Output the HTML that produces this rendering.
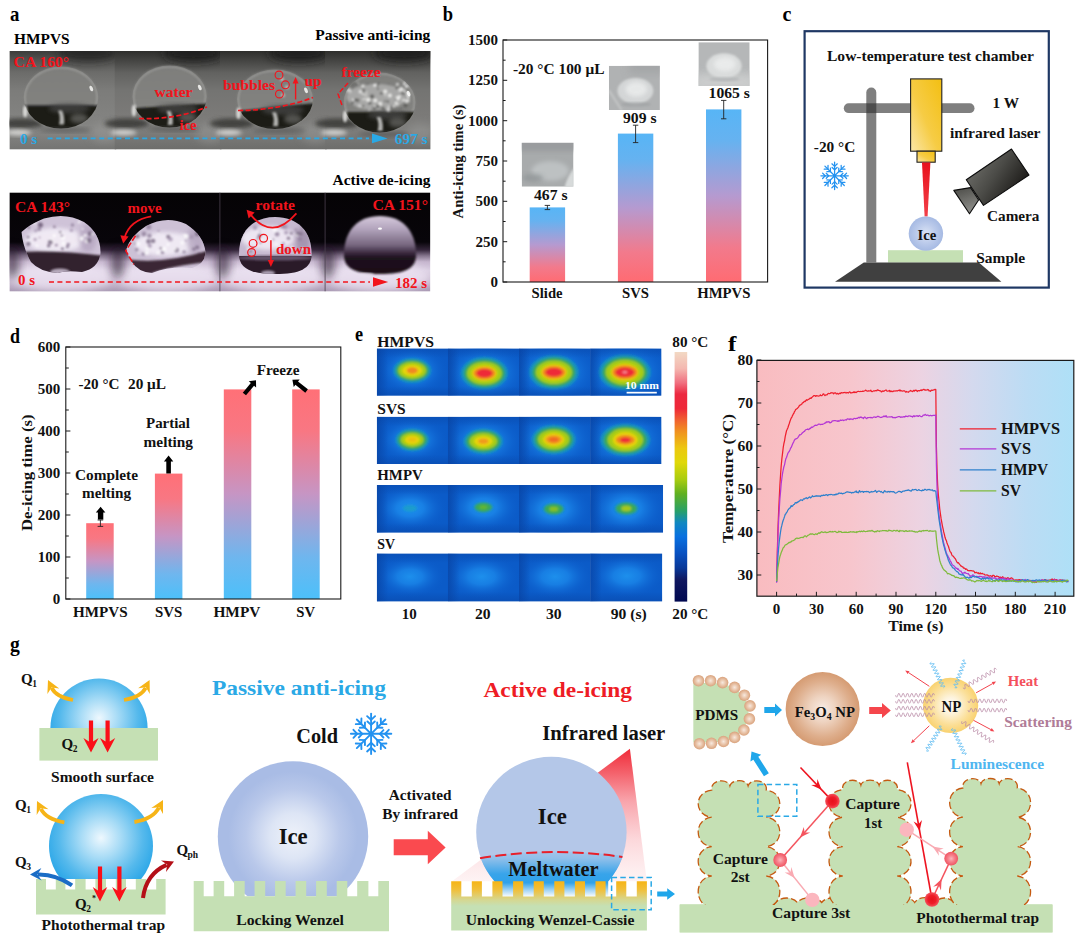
<!DOCTYPE html>
<html><head><meta charset="utf-8"><title>Figure</title>
<style>
html,body{margin:0;padding:0;background:#fff;}
body{width:1080px;height:948px;overflow:hidden;}
svg{display:block;}
text{font-family:"Liberation Serif",serif;font-weight:bold;}
</style></head><body>
<svg width="1080" height="948" viewBox="0 0 1080 948">
<rect width="1080" height="948" fill="#fff"/>
<!-- 01_a.py -->
<defs>
<filter id="b1" x="-20%" y="-20%" width="140%" height="140%"><feGaussianBlur stdDeviation="1"/></filter>
<filter id="b2" x="-30%" y="-30%" width="160%" height="160%"><feGaussianBlur stdDeviation="2.2"/></filter>
<filter id="b4" x="-50%" y="-50%" width="200%" height="200%"><feGaussianBlur stdDeviation="4.5"/></filter>
<filter id="b8" x="-50%" y="-50%" width="200%" height="200%"><feGaussianBlur stdDeviation="8"/></filter>
<linearGradient id="tbg" x1="0" y1="0" x2="0" y2="1">
 <stop offset="0" stop-color="#2e2e2c"/><stop offset="0.10" stop-color="#454543"/><stop offset="0.22" stop-color="#626260"/>
 <stop offset="0.40" stop-color="#747472"/><stop offset="0.65" stop-color="#7b7a78"/><stop offset="0.80" stop-color="#7e7e7c"/><stop offset="1" stop-color="#6d6d6b"/>
</linearGradient>
<linearGradient id="tbg1" x1="0" y1="0" x2="0" y2="1">
 <stop offset="0" stop-color="#3c3c3a"/><stop offset="0.10" stop-color="#555553"/><stop offset="0.22" stop-color="#6c6c6a"/>
 <stop offset="0.40" stop-color="#7c7c7a"/><stop offset="0.65" stop-color="#828280"/><stop offset="0.80" stop-color="#868684"/><stop offset="1" stop-color="#747472"/>
</linearGradient>
<linearGradient id="bbg" x1="0" y1="0" x2="0" y2="1">
 <stop offset="0" stop-color="#050305"/><stop offset="0.50" stop-color="#08050a"/><stop offset="0.58" stop-color="#35263b"/>
 <stop offset="0.64" stop-color="#86768e"/><stop offset="0.70" stop-color="#c6b6ce"/><stop offset="0.79" stop-color="#d9cde1"/><stop offset="0.90" stop-color="#c6b7ce"/><stop offset="1" stop-color="#a898b2"/>
</linearGradient>
<linearGradient id="dropTop" x1="0" y1="0" x2="0" y2="1">
 <stop offset="0" stop-color="#7e7e7c"/><stop offset="0.6" stop-color="#82827f"/><stop offset="1" stop-color="#8e8e8c"/>
</linearGradient>
<clipPath id="clipTop"><rect x="9.4" y="51.0" width="421.0" height="98.6"/></clipPath>
<clipPath id="clipBot"><rect x="9.4" y="192.4" width="421.0" height="99.2"/></clipPath>
</defs>
<g clip-path="url(#clipTop)">
<rect x="9.4" y="51.0" width="106.8" height="98.6" fill="url(#tbg1)"/>
<ellipse cx="88.3" cy="53.0" rx="30" ry="9" fill="#1c1c1a" opacity="0.70" filter="url(#b4)"/>
<ellipse cx="21.4" cy="123.5" rx="22" ry="5" fill="#373735" opacity="0.85" filter="url(#b2)"/>
<ellipse cx="18.4" cy="132.5" rx="13" ry="3" fill="#e2e2e0" opacity="0.85" filter="url(#b2)"/>
<ellipse cx="104.7" cy="133" rx="14" ry="10" fill="#9a9a98" opacity="0.5" filter="url(#b4)"/>
<rect x="114.7" y="51.0" width="106.8" height="98.6" fill="url(#tbg)"/>
<ellipse cx="193.6" cy="53.0" rx="30" ry="9" fill="#1c1c1a" opacity="0.90" filter="url(#b4)"/>
<ellipse cx="126.7" cy="123.5" rx="22" ry="5" fill="#373735" opacity="0.85" filter="url(#b2)"/>
<ellipse cx="123.7" cy="132.5" rx="13" ry="3" fill="#e2e2e0" opacity="0.85" filter="url(#b2)"/>
<ellipse cx="209.9" cy="133" rx="14" ry="10" fill="#9a9a98" opacity="0.5" filter="url(#b4)"/>
<rect x="219.9" y="51.0" width="106.8" height="98.6" fill="url(#tbg)"/>
<ellipse cx="298.8" cy="53.0" rx="30" ry="9" fill="#1c1c1a" opacity="0.90" filter="url(#b4)"/>
<ellipse cx="231.9" cy="123.5" rx="22" ry="5" fill="#373735" opacity="0.85" filter="url(#b2)"/>
<ellipse cx="228.9" cy="132.5" rx="13" ry="3" fill="#e2e2e0" opacity="0.85" filter="url(#b2)"/>
<ellipse cx="315.1" cy="133" rx="14" ry="10" fill="#9a9a98" opacity="0.5" filter="url(#b4)"/>
<rect x="325.1" y="51.0" width="106.8" height="98.6" fill="url(#tbg)"/>
<ellipse cx="404.1" cy="53.0" rx="30" ry="9" fill="#1c1c1a" opacity="0.90" filter="url(#b4)"/>
<ellipse cx="337.1" cy="123.5" rx="22" ry="5" fill="#373735" opacity="0.85" filter="url(#b2)"/>
<ellipse cx="334.1" cy="132.5" rx="13" ry="3" fill="#e2e2e0" opacity="0.85" filter="url(#b2)"/>
<ellipse cx="420.4" cy="133" rx="14" ry="10" fill="#9a9a98" opacity="0.5" filter="url(#b4)"/>
<clipPath id="dc0"><ellipse cx="61.0" cy="97.5" rx="37.3" ry="31.0"/></clipPath>
<ellipse cx="61.0" cy="97.5" rx="37.3" ry="31.0" fill="url(#dropTop)" filter="url(#b1)"/>
<g clip-path="url(#dc0)">
<ellipse cx="61.0" cy="97.5" rx="36.3" ry="30.0" fill="none" stroke="#b0b0ae" stroke-width="2" opacity="0.55" filter="url(#b1)"/>
<path d="M20.7 105.5 L101.3 105.5 L101.3 132.5 L20.7 132.5 Z" fill="#1b1b19" filter="url(#b1)"/>
<ellipse cx="69.0" cy="108.5" rx="20.5" ry="5" fill="#4a4a48" opacity="0.7" filter="url(#b2)"/>
<path d="M58.0 110.5 q3 6 1 14 l5 0 q1 -8 -2 -14 z" fill="#c4c4c2" opacity="0.9" filter="url(#b1)"/>
<ellipse cx="79.0" cy="118.5" rx="9" ry="5" fill="#6a6a68" opacity="0.7" filter="url(#b2)"/>
</g>
<ellipse cx="25.2" cy="111.5" rx="2.2" ry="6" fill="#e8e8e6" opacity="0.85" filter="url(#b1)"/>
<ellipse cx="91.3" cy="88.5" rx="1.6" ry="3" fill="#f2f2f0" opacity="0.9" transform="rotate(-25 91.3 88.5)"/>
<ellipse cx="65.0" cy="130.0" rx="26.1" ry="2.5" fill="#4a4a48" opacity="0.55" filter="url(#b2)"/>
<clipPath id="dc1"><ellipse cx="169.6" cy="96.5" rx="37.2" ry="31.0"/></clipPath>
<ellipse cx="169.6" cy="96.5" rx="37.2" ry="31.0" fill="url(#dropTop)" filter="url(#b1)"/>
<g clip-path="url(#dc1)">
<ellipse cx="169.6" cy="96.5" rx="36.2" ry="30.0" fill="none" stroke="#b0b0ae" stroke-width="2" opacity="0.55" filter="url(#b1)"/>
<path d="M129.4 108.5 L209.8 103.5 L209.8 131.5 L129.4 131.5 Z" fill="#1b1b19" filter="url(#b1)"/>
<ellipse cx="177.6" cy="109.0" rx="20.5" ry="5" fill="#4a4a48" opacity="0.7" filter="url(#b2)"/>
<path d="M166.6 111.0 q3 6 1 14 l5 0 q1 -8 -2 -14 z" fill="#c4c4c2" opacity="0.9" filter="url(#b1)"/>
<ellipse cx="187.6" cy="117.5" rx="9" ry="5" fill="#6a6a68" opacity="0.7" filter="url(#b2)"/>
</g>
<ellipse cx="133.9" cy="110.5" rx="2.2" ry="6" fill="#e8e8e6" opacity="0.85" filter="url(#b1)"/>
<ellipse cx="199.8" cy="87.5" rx="1.6" ry="3" fill="#f2f2f0" opacity="0.9" transform="rotate(-25 199.8 87.5)"/>
<ellipse cx="173.6" cy="129.0" rx="26.0" ry="2.5" fill="#4a4a48" opacity="0.55" filter="url(#b2)"/>
<clipPath id="dc2"><ellipse cx="275.0" cy="99.3" rx="38.0" ry="29.7"/></clipPath>
<ellipse cx="275.0" cy="99.3" rx="38.0" ry="29.7" fill="url(#dropTop)" filter="url(#b1)"/>
<g clip-path="url(#dc2)">
<ellipse cx="275.0" cy="99.3" rx="37.0" ry="28.7" fill="none" stroke="#b0b0ae" stroke-width="2" opacity="0.55" filter="url(#b1)"/>
<path d="M234.0 111.5 L316.0 103.0 L316.0 133.0 L234.0 133.0 Z" fill="#1b1b19" filter="url(#b1)"/>
<ellipse cx="283.0" cy="110.2" rx="20.9" ry="5" fill="#4a4a48" opacity="0.7" filter="url(#b2)"/>
<path d="M272.0 112.2 q3 6 1 14 l5 0 q1 -8 -2 -14 z" fill="#c4c4c2" opacity="0.9" filter="url(#b1)"/>
<ellipse cx="293.0" cy="119.0" rx="9" ry="5" fill="#6a6a68" opacity="0.7" filter="url(#b2)"/>
</g>
<ellipse cx="238.5" cy="113.3" rx="2.2" ry="6" fill="#e8e8e6" opacity="0.85" filter="url(#b1)"/>
<ellipse cx="306.0" cy="90.3" rx="1.6" ry="3" fill="#f2f2f0" opacity="0.9" transform="rotate(-25 306.0 90.3)"/>
<ellipse cx="279.0" cy="130.5" rx="26.6" ry="2.5" fill="#4a4a48" opacity="0.55" filter="url(#b2)"/>
<clipPath id="dc3"><ellipse cx="379.6" cy="102.6" rx="36.0" ry="30.0"/></clipPath>
<ellipse cx="379.6" cy="102.6" rx="36.0" ry="30.0" fill="url(#dropTop)" filter="url(#b1)"/>
<g clip-path="url(#dc3)">
<ellipse cx="379.6" cy="102.6" rx="35.0" ry="29.0" fill="none" stroke="#b0b0ae" stroke-width="2" opacity="0.55" filter="url(#b1)"/>
<path d="M340.6 112.0 L418.6 112.0 L418.6 136.6 L340.6 136.6 Z" fill="#1b1b19" filter="url(#b1)"/>
<ellipse cx="387.6" cy="115.0" rx="19.8" ry="5" fill="#4a4a48" opacity="0.7" filter="url(#b2)"/>
<path d="M376.6 117.0 q3 6 1 14 l5 0 q1 -8 -2 -14 z" fill="#c4c4c2" opacity="0.9" filter="url(#b1)"/>
<ellipse cx="397.6" cy="122.6" rx="9" ry="5" fill="#6a6a68" opacity="0.7" filter="url(#b2)"/>
</g>
<ellipse cx="345.1" cy="116.6" rx="2.2" ry="6" fill="#e8e8e6" opacity="0.85" filter="url(#b1)"/>
<ellipse cx="408.6" cy="93.6" rx="1.6" ry="3" fill="#f2f2f0" opacity="0.9" transform="rotate(-25 408.6 93.6)"/>
<ellipse cx="383.6" cy="134.1" rx="25.2" ry="2.5" fill="#4a4a48" opacity="0.55" filter="url(#b2)"/>
<g clip-path="url(#dc3)" filter="url(#b1)">
<ellipse cx="376.6" cy="97" rx="30" ry="13" fill="#b2b2b0" opacity="0.8"/>
<circle cx="362.8" cy="85.8" r="1.5" fill="#f4f4f2" opacity="0.85"/>
<circle cx="354.0" cy="83.5" r="2.2" fill="#6c6c6a" opacity="0.85"/>
<circle cx="396.6" cy="103.7" r="1.6" fill="#d6d6d4" opacity="0.85"/>
<circle cx="370.2" cy="104.1" r="1.2" fill="#e8e8e6" opacity="0.85"/>
<circle cx="405.2" cy="83.7" r="2.0" fill="#ffffff" opacity="0.85"/>
<circle cx="396.6" cy="88.2" r="1.2" fill="#5a5a58" opacity="0.85"/>
<circle cx="400.6" cy="108.9" r="0.9" fill="#5a5a58" opacity="0.85"/>
<circle cx="385.0" cy="101.1" r="1.2" fill="#6c6c6a" opacity="0.85"/>
<circle cx="363.4" cy="90.6" r="2.1" fill="#6c6c6a" opacity="0.85"/>
<circle cx="349.0" cy="90.9" r="2.1" fill="#ffffff" opacity="0.85"/>
<circle cx="399.5" cy="96.7" r="1.4" fill="#f4f4f2" opacity="0.85"/>
<circle cx="365.9" cy="95.2" r="1.3" fill="#d6d6d4" opacity="0.85"/>
<circle cx="397.4" cy="84.2" r="1.5" fill="#e8e8e6" opacity="0.85"/>
<circle cx="408.4" cy="97.0" r="1.5" fill="#ffffff" opacity="0.85"/>
<circle cx="369.2" cy="109.9" r="0.9" fill="#d6d6d4" opacity="0.85"/>
<circle cx="403.4" cy="100.1" r="1.2" fill="#f4f4f2" opacity="0.85"/>
<circle cx="369.9" cy="103.2" r="1.8" fill="#5a5a58" opacity="0.85"/>
<circle cx="360.5" cy="91.7" r="1.9" fill="#e8e8e6" opacity="0.85"/>
<circle cx="365.2" cy="98.7" r="1.0" fill="#d6d6d4" opacity="0.85"/>
<circle cx="404.7" cy="90.9" r="0.9" fill="#e8e8e6" opacity="0.85"/>
<circle cx="390.4" cy="107.2" r="1.9" fill="#5a5a58" opacity="0.85"/>
<circle cx="406.2" cy="83.5" r="1.3" fill="#5a5a58" opacity="0.85"/>
<circle cx="357.8" cy="100.6" r="1.8" fill="#6c6c6a" opacity="0.85"/>
<circle cx="353.3" cy="99.7" r="1.2" fill="#f4f4f2" opacity="0.85"/>
<circle cx="363.6" cy="99.2" r="1.3" fill="#d6d6d4" opacity="0.85"/>
<circle cx="349.2" cy="84.2" r="1.3" fill="#d6d6d4" opacity="0.85"/>
<circle cx="396.9" cy="109.9" r="0.9" fill="#6c6c6a" opacity="0.85"/>
<circle cx="407.5" cy="94.4" r="1.0" fill="#d6d6d4" opacity="0.85"/>
<circle cx="352.3" cy="102.9" r="1.8" fill="#6c6c6a" opacity="0.85"/>
<circle cx="357.6" cy="84.1" r="1.7" fill="#f4f4f2" opacity="0.85"/>
<circle cx="367.9" cy="84.0" r="1.2" fill="#6c6c6a" opacity="0.85"/>
<circle cx="408.4" cy="100.6" r="1.5" fill="#d6d6d4" opacity="0.85"/>
<circle cx="363.1" cy="94.1" r="1.1" fill="#e8e8e6" opacity="0.85"/>
<circle cx="375.2" cy="100.5" r="2.0" fill="#f4f4f2" opacity="0.85"/>
<circle cx="378.5" cy="83.9" r="1.2" fill="#5a5a58" opacity="0.85"/>
<circle cx="380.1" cy="103.9" r="2.1" fill="#f4f4f2" opacity="0.85"/>
<circle cx="357.1" cy="84.4" r="1.6" fill="#5a5a58" opacity="0.85"/>
<circle cx="408.0" cy="93.9" r="1.8" fill="#ffffff" opacity="0.85"/>
<circle cx="396.1" cy="103.1" r="1.4" fill="#f4f4f2" opacity="0.85"/>
<circle cx="374.4" cy="108.1" r="2.1" fill="#6c6c6a" opacity="0.85"/>
<circle cx="404.1" cy="92.1" r="1.5" fill="#ffffff" opacity="0.85"/>
<circle cx="402.6" cy="91.5" r="1.6" fill="#f4f4f2" opacity="0.85"/>
<circle cx="387.9" cy="101.5" r="1.3" fill="#5a5a58" opacity="0.85"/>
<circle cx="372.1" cy="96.4" r="2.2" fill="#5a5a58" opacity="0.85"/>
<circle cx="388.7" cy="84.2" r="1.0" fill="#6c6c6a" opacity="0.85"/>
<circle cx="406.7" cy="101.0" r="2.1" fill="#e8e8e6" opacity="0.85"/>
<circle cx="389.9" cy="95.5" r="1.9" fill="#f4f4f2" opacity="0.85"/>
<circle cx="404.2" cy="88.9" r="1.1" fill="#e8e8e6" opacity="0.85"/>
<circle cx="358.0" cy="99.5" r="1.0" fill="#5a5a58" opacity="0.85"/>
<circle cx="397.2" cy="104.1" r="1.6" fill="#d6d6d4" opacity="0.85"/>
<circle cx="401.3" cy="88.4" r="1.7" fill="#ffffff" opacity="0.85"/>
<circle cx="397.7" cy="98.2" r="2.2" fill="#f4f4f2" opacity="0.85"/>
<circle cx="375.0" cy="85.1" r="1.7" fill="#ffffff" opacity="0.85"/>
<circle cx="377.9" cy="106.3" r="2.0" fill="#6c6c6a" opacity="0.85"/>
<circle cx="351.1" cy="85.2" r="2.2" fill="#6c6c6a" opacity="0.85"/>
<circle cx="366.4" cy="92.4" r="0.9" fill="#e8e8e6" opacity="0.85"/>
<circle cx="381.2" cy="93.3" r="1.4" fill="#5a5a58" opacity="0.85"/>
<circle cx="394.1" cy="106.1" r="0.9" fill="#f4f4f2" opacity="0.85"/>
<circle cx="355.5" cy="99.8" r="1.6" fill="#5a5a58" opacity="0.85"/>
<circle cx="374.6" cy="106.2" r="0.9" fill="#f4f4f2" opacity="0.85"/>
<circle cx="401.5" cy="88.3" r="2.2" fill="#5a5a58" opacity="0.85"/>
<circle cx="377.3" cy="86.2" r="1.1" fill="#6c6c6a" opacity="0.85"/>
<circle cx="401.1" cy="87.8" r="1.3" fill="#d6d6d4" opacity="0.85"/>
<circle cx="400.2" cy="90.0" r="1.9" fill="#e8e8e6" opacity="0.85"/>
<circle cx="348.9" cy="91.4" r="1.0" fill="#6c6c6a" opacity="0.85"/>
<circle cx="395.8" cy="99.2" r="0.9" fill="#6c6c6a" opacity="0.85"/>
<circle cx="363.3" cy="105.9" r="1.1" fill="#5a5a58" opacity="0.85"/>
<circle cx="359.4" cy="106.3" r="1.8" fill="#e8e8e6" opacity="0.85"/>
<circle cx="385.2" cy="91.5" r="2.0" fill="#f4f4f2" opacity="0.85"/>
<circle cx="382.7" cy="108.3" r="2.0" fill="#6c6c6a" opacity="0.85"/>
<circle cx="385.4" cy="94.9" r="1.2" fill="#d6d6d4" opacity="0.85"/>
<circle cx="384.4" cy="109.6" r="1.0" fill="#5a5a58" opacity="0.85"/>
<circle cx="353.6" cy="86.9" r="1.1" fill="#6c6c6a" opacity="0.85"/>
<circle cx="402.7" cy="93.0" r="2.0" fill="#6c6c6a" opacity="0.85"/>
<circle cx="389.1" cy="106.8" r="1.4" fill="#e8e8e6" opacity="0.85"/>
<circle cx="404.8" cy="87.9" r="1.4" fill="#ffffff" opacity="0.85"/>
<circle cx="359.1" cy="106.8" r="0.8" fill="#6c6c6a" opacity="0.85"/>
<circle cx="405.6" cy="105.4" r="2.0" fill="#5a5a58" opacity="0.85"/>
<circle cx="405.8" cy="87.3" r="2.3" fill="#6c6c6a" opacity="0.85"/>
<circle cx="388.3" cy="109.8" r="1.9" fill="#e8e8e6" opacity="0.85"/>
<circle cx="406.7" cy="86.2" r="1.5" fill="#ffffff" opacity="0.85"/>
<circle cx="401.8" cy="89.0" r="1.3" fill="#ffffff" opacity="0.85"/>
<circle cx="404.3" cy="94.0" r="1.2" fill="#6c6c6a" opacity="0.85"/>
<circle cx="378.0" cy="89.0" r="1.1" fill="#5a5a58" opacity="0.85"/>
<circle cx="368.2" cy="99.9" r="2.1" fill="#f4f4f2" opacity="0.85"/>
</g>
<g filter="url(#b1)">
<circle cx="282.0" cy="79.3" r="2" fill="#c8c8c6" opacity="0.8"/>
<circle cx="287.0" cy="87.3" r="2" fill="#c8c8c6" opacity="0.8"/>
<circle cx="283.0" cy="95.3" r="2" fill="#c8c8c6" opacity="0.8"/>
</g>
</g>
<text x="13.6" y="67.2" font-size="15" fill="#f2141c" textLength="55.5" lengthAdjust="spacingAndGlyphs" >CA 160°</text>
<text x="20.0" y="144.2" font-size="15" fill="#2aa9e6" textLength="17.0" lengthAdjust="spacingAndGlyphs" >0 s</text>
<text x="394.8" y="144.2" font-size="15" fill="#2aa9e6" textLength="32.6" lengthAdjust="spacingAndGlyphs" >697 s</text>
<line x1="47.6" y1="138.4" x2="369" y2="138.4" stroke="#2aa9e6" stroke-width="1.6" stroke-dasharray="5 3.6"/>
<path d="M372 133.6 L387.6 138.4 L372 143.2 Z" fill="#2aa9e6"/>
<text x="154.5" y="96.5" font-size="15" fill="#f2141c" textLength="38.0" lengthAdjust="spacingAndGlyphs" >water</text>
<text x="179.6" y="129.5" font-size="15" fill="#f2141c" textLength="17.0" lengthAdjust="spacingAndGlyphs" >ice</text>
<path d="M139 118.5 Q175 120 207 107" fill="none" stroke="#f2141c" stroke-width="1.7" stroke-dasharray="5 2.5"/>
<text x="223.0" y="90.0" font-size="15" fill="#f2141c" textLength="52.0" lengthAdjust="spacingAndGlyphs" >bubbles</text>
<text x="304.5" y="85.5" font-size="15" fill="#f2141c" textLength="17.0" lengthAdjust="spacingAndGlyphs" >up</text>
<circle cx="279.0" cy="75.0" r="3.9" fill="none" stroke="#f2141c" stroke-width="1.1"/>
<circle cx="285.4" cy="84.8" r="3.9" fill="none" stroke="#f2141c" stroke-width="1.1"/>
<circle cx="279.4" cy="94.0" r="3.9" fill="none" stroke="#f2141c" stroke-width="1.1"/>
<path d="M295.6 99.5 L295.6 81" stroke="#f2141c" stroke-width="1.4" fill="none"/><path d="M292.6 83.5 L295.6 77 L298.6 83.5 Z" fill="#f2141c"/>
<path d="M238 110.5 Q280 110 313 97.5" fill="none" stroke="#f2141c" stroke-width="1.7" stroke-dasharray="5 2.5"/>
<text x="341.6" y="77.0" font-size="15" fill="#f2141c" textLength="39.0" lengthAdjust="spacingAndGlyphs" >freeze</text>
<path d="M348 83 L338 94 L342.6 107" fill="none" stroke="#f2141c" stroke-width="1.5" stroke-dasharray="5 2.2"/>
<g clip-path="url(#clipBot)">
<rect x="9.4" y="192.4" width="421.0" height="99.2" fill="url(#bbg)"/>
<ellipse cx="62.0" cy="277" rx="52" ry="15" fill="#efe6f4" opacity="0.75" filter="url(#b4)"/>
<ellipse cx="12.4" cy="262" rx="7" ry="16" fill="#1a1020" opacity="0.55" filter="url(#b4)"/>
<ellipse cx="167.3" cy="277" rx="52" ry="15" fill="#efe6f4" opacity="0.75" filter="url(#b4)"/>
<ellipse cx="117.7" cy="262" rx="7" ry="16" fill="#1a1020" opacity="0.55" filter="url(#b4)"/>
<ellipse cx="272.5" cy="277" rx="52" ry="15" fill="#efe6f4" opacity="0.75" filter="url(#b4)"/>
<ellipse cx="222.9" cy="262" rx="7" ry="16" fill="#1a1020" opacity="0.55" filter="url(#b4)"/>
<line x1="219.9" y1="192.4" x2="219.9" y2="291.6" stroke="#4a4050" stroke-width="1" opacity="0.8"/>
<ellipse cx="377.8" cy="277" rx="52" ry="15" fill="#efe6f4" opacity="0.75" filter="url(#b4)"/>
<ellipse cx="328.1" cy="262" rx="7" ry="16" fill="#1a1020" opacity="0.55" filter="url(#b4)"/>
<line x1="325.1" y1="192.4" x2="325.1" y2="291.6" stroke="#4a4050" stroke-width="1" opacity="0.8"/>
<clipPath id="bd1"><path d="M21.5 232 Q30 224 44 218.5 Q66 212 84 222 Q101 234 100.5 253 Q99 268 82 272 Q66 270 58 273 Q40 272 31 262 Q23 248 21.5 232Z"/></clipPath>
<g clip-path="url(#bd1)"><rect x="15" y="210" width="95" height="70" fill="#cfc3d8"/>
<ellipse cx="55" cy="240" rx="30" ry="12" fill="#f3eef7" opacity="0.9" filter="url(#b2)"/>
<ellipse cx="88" cy="238" rx="9" ry="14" fill="#b5a6c0" opacity="0.8" filter="url(#b2)"/>
<g filter="url(#b1)">
<circle cx="37.0" cy="245.7" r="1.3" fill="#ffffff" opacity="0.8"/>
<circle cx="61.2" cy="234.6" r="2.2" fill="#ffffff" opacity="0.8"/>
<circle cx="34.3" cy="222.8" r="1.6" fill="#ffffff" opacity="0.8"/>
<circle cx="79.1" cy="222.1" r="1.3" fill="#ffffff" opacity="0.8"/>
<circle cx="81.7" cy="238.6" r="2.3" fill="#ffffff" opacity="0.8"/>
<circle cx="30.0" cy="222.7" r="0.9" fill="#75657f" opacity="0.8"/>
<circle cx="87.0" cy="241.2" r="2.1" fill="#ffffff" opacity="0.8"/>
<circle cx="63.4" cy="243.4" r="1.8" fill="#ffffff" opacity="0.8"/>
<circle cx="51.2" cy="241.0" r="2.4" fill="#ffffff" opacity="0.8"/>
<circle cx="90.1" cy="233.7" r="2.4" fill="#75657f" opacity="0.8"/>
<circle cx="34.7" cy="239.6" r="1.1" fill="#a595b0" opacity="0.8"/>
<circle cx="50.3" cy="242.2" r="2.4" fill="#75657f" opacity="0.8"/>
<circle cx="56.3" cy="245.2" r="1.4" fill="#8d7d98" opacity="0.8"/>
<circle cx="67.4" cy="246.7" r="1.5" fill="#75657f" opacity="0.8"/>
<circle cx="85.2" cy="235.4" r="1.6" fill="#ffffff" opacity="0.8"/>
<circle cx="39.6" cy="237.4" r="1.0" fill="#a595b0" opacity="0.8"/>
<circle cx="72.5" cy="225.0" r="1.7" fill="#8d7d98" opacity="0.8"/>
<circle cx="54.3" cy="235.7" r="1.7" fill="#ffffff" opacity="0.8"/>
<circle cx="48.7" cy="245.8" r="1.8" fill="#75657f" opacity="0.8"/>
<circle cx="54.4" cy="226.8" r="1.3" fill="#75657f" opacity="0.8"/>
<circle cx="28.8" cy="227.6" r="1.3" fill="#75657f" opacity="0.8"/>
<circle cx="62.4" cy="248.7" r="1.5" fill="#75657f" opacity="0.8"/>
<circle cx="89.0" cy="240.5" r="2.4" fill="#75657f" opacity="0.8"/>
<circle cx="28.4" cy="243.9" r="2.2" fill="#75657f" opacity="0.8"/>
<circle cx="62.8" cy="237.7" r="2.4" fill="#ffffff" opacity="0.8"/>
<circle cx="60.2" cy="232.2" r="1.2" fill="#75657f" opacity="0.8"/>
<circle cx="61.8" cy="235.6" r="1.6" fill="#a595b0" opacity="0.8"/>
<circle cx="28.1" cy="237.1" r="1.4" fill="#75657f" opacity="0.8"/>
<circle cx="68.2" cy="244.5" r="1.8" fill="#8d7d98" opacity="0.8"/>
<circle cx="40.1" cy="224.6" r="2.2" fill="#75657f" opacity="0.8"/>
<circle cx="82.7" cy="229.1" r="1.0" fill="#ffffff" opacity="0.8"/>
<circle cx="29.1" cy="222.4" r="1.3" fill="#a595b0" opacity="0.8"/>
<circle cx="35.3" cy="239.5" r="1.4" fill="#a595b0" opacity="0.8"/>
<circle cx="39.2" cy="229.1" r="2.0" fill="#8d7d98" opacity="0.8"/>
<circle cx="71.4" cy="230.2" r="1.7" fill="#a595b0" opacity="0.8"/>
<circle cx="35.7" cy="230.7" r="1.6" fill="#a595b0" opacity="0.8"/>
<circle cx="40.6" cy="225.0" r="2.5" fill="#75657f" opacity="0.8"/>
<circle cx="92.7" cy="234.1" r="1.3" fill="#ffffff" opacity="0.8"/>
</g>
<path d="M15 252 Q60 250 105 256 L105 285 L15 285Z" fill="#33222f" filter="url(#b1)"/>
<ellipse cx="60" cy="272" rx="10" ry="3.5" fill="#d8cce0" opacity="0.8" filter="url(#b1)"/>
</g>
<clipPath id="bd2"><path d="M126 250 Q130 236 146 226 Q166 215 186 224 Q204 236 205.5 252 Q205 264 192 268 Q170 266 152 273 Q138 272 132 262 Q128 256 126 250Z"/></clipPath>
<g clip-path="url(#bd2)"><rect x="120" y="212" width="95" height="70" fill="#cdc1d6"/>
<ellipse cx="165" cy="244" rx="30" ry="12" fill="#f3eef7" opacity="0.9" filter="url(#b2)"/>
<ellipse cx="195" cy="240" rx="8" ry="14" fill="#b5a6c0" opacity="0.8" filter="url(#b2)"/>
<g filter="url(#b1)">
<circle cx="197.1" cy="254.4" r="1.0" fill="#ffffff" opacity="0.8"/>
<circle cx="158.5" cy="231.1" r="1.3" fill="#a595b0" opacity="0.8"/>
<circle cx="148.8" cy="227.1" r="2.5" fill="#8d7d98" opacity="0.8"/>
<circle cx="176.5" cy="250.1" r="2.4" fill="#75657f" opacity="0.8"/>
<circle cx="170.4" cy="239.3" r="2.3" fill="#a595b0" opacity="0.8"/>
<circle cx="191.6" cy="236.9" r="2.4" fill="#a595b0" opacity="0.8"/>
<circle cx="162.5" cy="252.5" r="1.8" fill="#8d7d98" opacity="0.8"/>
<circle cx="150.3" cy="226.7" r="1.2" fill="#a595b0" opacity="0.8"/>
<circle cx="168.2" cy="236.8" r="2.0" fill="#75657f" opacity="0.8"/>
<circle cx="146.8" cy="252.8" r="2.1" fill="#ffffff" opacity="0.8"/>
<circle cx="193.9" cy="248.9" r="1.5" fill="#75657f" opacity="0.8"/>
<circle cx="198.8" cy="254.9" r="2.4" fill="#8d7d98" opacity="0.8"/>
<circle cx="161.0" cy="248.2" r="1.3" fill="#75657f" opacity="0.8"/>
<circle cx="153.1" cy="240.9" r="2.2" fill="#75657f" opacity="0.8"/>
<circle cx="158.0" cy="252.5" r="1.5" fill="#ffffff" opacity="0.8"/>
<circle cx="182.2" cy="242.7" r="1.7" fill="#ffffff" opacity="0.8"/>
<circle cx="149.4" cy="235.7" r="2.3" fill="#8d7d98" opacity="0.8"/>
<circle cx="175.1" cy="249.2" r="1.4" fill="#ffffff" opacity="0.8"/>
<circle cx="197.2" cy="247.2" r="1.8" fill="#75657f" opacity="0.8"/>
<circle cx="168.0" cy="244.5" r="1.4" fill="#ffffff" opacity="0.8"/>
<circle cx="148.5" cy="241.4" r="2.3" fill="#75657f" opacity="0.8"/>
<circle cx="186.0" cy="236.2" r="2.4" fill="#ffffff" opacity="0.8"/>
<circle cx="147.4" cy="248.3" r="1.8" fill="#ffffff" opacity="0.8"/>
<circle cx="138.2" cy="243.8" r="2.1" fill="#ffffff" opacity="0.8"/>
<circle cx="143.9" cy="234.0" r="2.4" fill="#8d7d98" opacity="0.8"/>
<circle cx="138.9" cy="252.9" r="1.0" fill="#ffffff" opacity="0.8"/>
<circle cx="158.4" cy="233.5" r="1.0" fill="#ffffff" opacity="0.8"/>
<circle cx="197.0" cy="226.8" r="1.5" fill="#ffffff" opacity="0.8"/>
<circle cx="143.3" cy="254.1" r="1.7" fill="#8d7d98" opacity="0.8"/>
<circle cx="135.1" cy="243.7" r="1.1" fill="#8d7d98" opacity="0.8"/>
<circle cx="137.4" cy="236.3" r="1.9" fill="#75657f" opacity="0.8"/>
<circle cx="183.6" cy="234.6" r="0.9" fill="#ffffff" opacity="0.8"/>
<circle cx="164.2" cy="249.0" r="2.3" fill="#ffffff" opacity="0.8"/>
<circle cx="184.1" cy="251.9" r="1.7" fill="#8d7d98" opacity="0.8"/>
<circle cx="149.7" cy="245.8" r="2.2" fill="#a595b0" opacity="0.8"/>
<circle cx="136.6" cy="249.7" r="1.7" fill="#8d7d98" opacity="0.8"/>
<circle cx="185.8" cy="240.6" r="1.1" fill="#a595b0" opacity="0.8"/>
<circle cx="197.4" cy="233.8" r="2.5" fill="#75657f" opacity="0.8"/>
</g>
<path d="M120 258 Q160 266 210 250 L210 262 Q170 266 150 274 L120 274Z" fill="#3a2836" filter="url(#b1)"/>
</g>
<clipPath id="bd3"><path d="M239.0 254.0 C239.0 231.0 253.3 217.0 275.3 217.0 C297.3 217.0 311.6 231.0 311.6 254.0 C311.6 269.0 299.3 274.0 275.3 274.0 C251.3 274.0 239.0 269.0 239.0 254.0Z"/></clipPath>
<g clip-path="url(#bd3)"><rect x="235" y="214" width="82" height="42" fill="#c6b9d0"/><rect x="235" y="256" width="82" height="25" fill="#2a1a28"/>
<ellipse cx="268" cy="238" rx="27" ry="12" fill="#f1ebf5" opacity="0.9" filter="url(#b2)"/>
<ellipse cx="303" cy="240" rx="7" ry="14" fill="#9d8da8" opacity="0.8" filter="url(#b2)"/>
<g filter="url(#b1)">
<circle cx="258.8" cy="238.3" r="2.4" fill="#a595b0" opacity="0.8"/>
<circle cx="273.4" cy="239.4" r="0.9" fill="#75657f" opacity="0.8"/>
<circle cx="295.9" cy="229.8" r="1.2" fill="#8d7d98" opacity="0.8"/>
<circle cx="288.5" cy="238.2" r="1.7" fill="#75657f" opacity="0.8"/>
<circle cx="283.6" cy="226.5" r="2.3" fill="#8d7d98" opacity="0.8"/>
<circle cx="276.4" cy="244.2" r="1.2" fill="#ffffff" opacity="0.8"/>
<circle cx="303.4" cy="223.3" r="2.2" fill="#ffffff" opacity="0.8"/>
<circle cx="260.7" cy="239.8" r="2.0" fill="#ffffff" opacity="0.8"/>
<circle cx="301.1" cy="233.8" r="1.6" fill="#75657f" opacity="0.8"/>
<circle cx="302.0" cy="248.4" r="1.0" fill="#ffffff" opacity="0.8"/>
<circle cx="274.7" cy="229.7" r="2.1" fill="#ffffff" opacity="0.8"/>
<circle cx="297.0" cy="234.6" r="1.8" fill="#ffffff" opacity="0.8"/>
<circle cx="277.1" cy="234.2" r="2.3" fill="#8d7d98" opacity="0.8"/>
<circle cx="286.3" cy="249.9" r="2.5" fill="#a595b0" opacity="0.8"/>
<circle cx="285.6" cy="226.9" r="2.4" fill="#a595b0" opacity="0.8"/>
<circle cx="300.1" cy="239.1" r="1.9" fill="#8d7d98" opacity="0.8"/>
<circle cx="305.3" cy="230.0" r="1.0" fill="#ffffff" opacity="0.8"/>
<circle cx="296.9" cy="251.7" r="1.5" fill="#ffffff" opacity="0.8"/>
<circle cx="248.1" cy="248.9" r="1.4" fill="#ffffff" opacity="0.8"/>
<circle cx="291.7" cy="248.2" r="1.9" fill="#ffffff" opacity="0.8"/>
<circle cx="291.2" cy="233.3" r="1.4" fill="#75657f" opacity="0.8"/>
<circle cx="298.6" cy="251.4" r="1.3" fill="#75657f" opacity="0.8"/>
<circle cx="246.2" cy="222.2" r="1.9" fill="#ffffff" opacity="0.8"/>
<circle cx="245.9" cy="227.9" r="1.4" fill="#ffffff" opacity="0.8"/>
<circle cx="260.3" cy="242.7" r="1.4" fill="#a595b0" opacity="0.8"/>
<circle cx="303.4" cy="248.9" r="1.5" fill="#ffffff" opacity="0.8"/>
<circle cx="297.9" cy="233.6" r="2.0" fill="#75657f" opacity="0.8"/>
<circle cx="250.4" cy="251.2" r="1.3" fill="#75657f" opacity="0.8"/>
<circle cx="283.3" cy="243.5" r="1.6" fill="#a595b0" opacity="0.8"/>
<circle cx="260.0" cy="231.1" r="0.9" fill="#a595b0" opacity="0.8"/>
<circle cx="269.7" cy="239.4" r="1.5" fill="#ffffff" opacity="0.8"/>
<circle cx="280.5" cy="226.0" r="1.6" fill="#a595b0" opacity="0.8"/>
<circle cx="286.1" cy="232.6" r="2.1" fill="#a595b0" opacity="0.8"/>
<circle cx="245.4" cy="223.8" r="2.4" fill="#ffffff" opacity="0.8"/>
<circle cx="259.6" cy="235.7" r="1.9" fill="#75657f" opacity="0.8"/>
<circle cx="255.0" cy="227.6" r="2.3" fill="#a595b0" opacity="0.8"/>
</g>
<ellipse cx="275" cy="258" rx="38" ry="2.6" fill="#6b5a72" opacity="0.9" filter="url(#b1)"/>
<ellipse cx="268" cy="273" rx="7" ry="2.5" fill="#cfc3d8" opacity="0.8" filter="url(#b1)"/>
</g>
<defs><linearGradient id="bd4g" gradientUnits="userSpaceOnUse" x1="0" y1="216" x2="0" y2="274"><stop offset="0" stop-color="#d6cadd"/><stop offset="0.22" stop-color="#b3a5bd"/><stop offset="0.5" stop-color="#77667f"/><stop offset="0.64" stop-color="#3a2a3e"/><stop offset="0.72" stop-color="#1d121c"/><stop offset="1" stop-color="#1a1018"/></linearGradient></defs>
<path d="M344.0 255.0 C344.0 230.0 358.0 216.0 380.0 216.0 C402.0 216.0 416.0 230.0 416.0 255.0 C416.0 269.0 404.0 274.0 380.0 274.0 C356.0 274.0 344.0 269.0 344.0 255.0Z" fill="url(#bd4g)" filter="url(#b1)"/>
<ellipse cx="380" cy="228.6" rx="2" ry="1.2" fill="#fff"/>
<ellipse cx="366" cy="275" rx="8" ry="2" fill="#e8dfee" opacity="0.8" filter="url(#b1)"/>
</g>
<text x="15.0" y="212.4" font-size="15" fill="#f2141c" textLength="55.0" lengthAdjust="spacingAndGlyphs" >CA 143°</text>
<text x="127.6" y="213.0" font-size="15" fill="#f2141c" textLength="34.0" lengthAdjust="spacingAndGlyphs" >move</text>
<text x="255.6" y="210.0" font-size="15" fill="#f2141c" textLength="39.4" lengthAdjust="spacingAndGlyphs" >rotate</text>
<text x="372.4" y="210.0" font-size="15" fill="#f2141c" textLength="55.6" lengthAdjust="spacingAndGlyphs" >CA 151°</text>
<text x="276.0" y="254.0" font-size="15" fill="#f2141c" textLength="35.0" lengthAdjust="spacingAndGlyphs" >down</text>
<text x="18.0" y="285.0" font-size="15" fill="#f2141c" textLength="17.0" lengthAdjust="spacingAndGlyphs" >0 s</text>
<text x="395.0" y="287.6" font-size="15" fill="#f2141c" textLength="32.0" lengthAdjust="spacingAndGlyphs" >182 s</text>
<line x1="49" y1="282" x2="370" y2="282" stroke="#f2141c" stroke-width="1.4" stroke-dasharray="5 3.4"/>
<path d="M373 277.3 L388.2 282 L373 286.7 Z" fill="#f2141c"/>
<path d="M151.2 216.4 Q130 220 124.6 237.5" fill="none" stroke="#f2141c" stroke-width="1.8"/><path d="M120.4 235.2 L123.2 243.4 L128.6 236.6 Z" fill="#f2141c"/>
<path d="M135.5 235.7 L125.8 250.8 L133.8 264.4" fill="none" stroke="#f2141c" stroke-width="1.6" stroke-dasharray="6 2.2"/>
<path d="M296.4 213.3 Q272 241.5 250.4 214.4" fill="none" stroke="#f2141c" stroke-width="1.8"/><path d="M246.6 209.8 L254.6 212.6 L248.6 218.4 Z" fill="#f2141c"/>
<circle cx="263.6" cy="238.3" r="3.9" fill="none" stroke="#f2141c" stroke-width="1.2"/>
<circle cx="253.1" cy="243.4" r="3.9" fill="none" stroke="#f2141c" stroke-width="1.2"/>
<circle cx="251.6" cy="252.5" r="3.9" fill="none" stroke="#f2141c" stroke-width="1.2"/>
<path d="M270.9 240.3 L270.9 262" stroke="#f2141c" stroke-width="1.5"/><path d="M267.8 260 L270.9 267 L274 260 Z" fill="#f2141c"/>
<text x="10.0" y="20.7" font-size="21" fill="#000" textLength="9.4" lengthAdjust="spacingAndGlyphs" >a</text>
<text x="14.0" y="43.6" font-size="15.5" fill="#000" textLength="55.6" lengthAdjust="spacingAndGlyphs" >HMPVS</text>
<text x="315.3" y="39.6" font-size="15.5" fill="#000" textLength="115.0" lengthAdjust="spacingAndGlyphs" >Passive anti-icing</text>
<text x="332.6" y="185.0" font-size="15.5" fill="#000" textLength="97.8" lengthAdjust="spacingAndGlyphs" >Active de-icing</text>

<!-- 02_b.py -->
<defs>
<linearGradient id="barB" x1="0" y1="0" x2="0" y2="1"><stop offset="0" stop-color="#57b5f6"/><stop offset="0.18" stop-color="#66b2f0"/><stop offset="0.5" stop-color="#b59ad0"/><stop offset="0.8" stop-color="#f27a8c"/><stop offset="1" stop-color="#ff6b72"/></linearGradient>
<radialGradient id="phs" cx="0.55" cy="0.55" r="0.6"><stop offset="0" stop-color="#d0d4d6"/><stop offset="1" stop-color="#a9adaf"/></radialGradient>
</defs>
<rect x="529.7" y="207.4" width="35.4" height="74.6" fill="url(#barB)"/>
<path d="M547.4 205.4 V209.6 M544.7 205.4 H550.1 M544.7 209.6 H550.1" stroke="#222" stroke-width="0.9" fill="none"/>
<text x="534.0" y="199.6" font-size="15" fill="#111" textLength="33.6" lengthAdjust="spacingAndGlyphs" >467 s</text>
<rect x="617.9" y="133.6" width="35.4" height="148.4" fill="url(#barB)"/>
<path d="M635.6 125.2 V142.6 M632.9 125.2 H638.3 M632.9 142.6 H638.3" stroke="#222" stroke-width="0.9" fill="none"/>
<text x="623.0" y="122.6" font-size="15" fill="#111" textLength="33.6" lengthAdjust="spacingAndGlyphs" >909 s</text>
<rect x="706.0" y="109.4" width="35.4" height="172.6" fill="url(#barB)"/>
<path d="M723.7 100.4 V118.8 M721.0 100.4 H726.4 M721.0 118.8 H726.4" stroke="#222" stroke-width="0.9" fill="none"/>
<text x="708.6" y="98.0" font-size="15" fill="#111" textLength="41.2" lengthAdjust="spacingAndGlyphs" >1065 s</text>
<rect x="503.0" y="40.0" width="264.6" height="242.0" fill="none" stroke="#1a1a1a" stroke-width="1.1"/>
<line x1="503.0" y1="282.0" x2="507.2" y2="282.0" stroke="#1a1a1a" stroke-width="1"/>
<text x="498.0" y="287.1" font-size="15" fill="#111" text-anchor="end" >0</text>
<line x1="503.0" y1="261.8" x2="505.6" y2="261.8" stroke="#1a1a1a" stroke-width="1"/>
<line x1="503.0" y1="241.7" x2="507.2" y2="241.7" stroke="#1a1a1a" stroke-width="1"/>
<text x="498.0" y="246.8" font-size="15" fill="#111" text-anchor="end" >250</text>
<line x1="503.0" y1="221.5" x2="505.6" y2="221.5" stroke="#1a1a1a" stroke-width="1"/>
<line x1="503.0" y1="201.3" x2="507.2" y2="201.3" stroke="#1a1a1a" stroke-width="1"/>
<text x="498.0" y="206.4" font-size="15" fill="#111" text-anchor="end" >500</text>
<line x1="503.0" y1="181.2" x2="505.6" y2="181.2" stroke="#1a1a1a" stroke-width="1"/>
<line x1="503.0" y1="161.0" x2="507.2" y2="161.0" stroke="#1a1a1a" stroke-width="1"/>
<text x="498.0" y="166.1" font-size="15" fill="#111" text-anchor="end" >750</text>
<line x1="503.0" y1="140.8" x2="505.6" y2="140.8" stroke="#1a1a1a" stroke-width="1"/>
<line x1="503.0" y1="120.7" x2="507.2" y2="120.7" stroke="#1a1a1a" stroke-width="1"/>
<text x="498.0" y="125.8" font-size="15" fill="#111" text-anchor="end" >1000</text>
<line x1="503.0" y1="100.5" x2="505.6" y2="100.5" stroke="#1a1a1a" stroke-width="1"/>
<line x1="503.0" y1="80.3" x2="507.2" y2="80.3" stroke="#1a1a1a" stroke-width="1"/>
<text x="498.0" y="85.4" font-size="15" fill="#111" text-anchor="end" >1250</text>
<line x1="503.0" y1="60.2" x2="505.6" y2="60.2" stroke="#1a1a1a" stroke-width="1"/>
<line x1="503.0" y1="40.0" x2="507.2" y2="40.0" stroke="#1a1a1a" stroke-width="1"/>
<text x="498.0" y="45.1" font-size="15" fill="#111" text-anchor="end" >1500</text>
<text x="531.6" y="298.4" font-size="15" fill="#111" textLength="31.0" lengthAdjust="spacingAndGlyphs" >Slide</text>
<text x="622.0" y="298.4" font-size="15" fill="#111" textLength="27.0" lengthAdjust="spacingAndGlyphs" >SVS</text>
<text x="697.2" y="298.4" font-size="15" fill="#111" textLength="53.3" lengthAdjust="spacingAndGlyphs" >HMPVS</text>
<text x="0" y="0" font-size="15.5" fill="#111" text-anchor="middle" transform="translate(462.6 161.5) rotate(-90)" textLength="114" lengthAdjust="spacingAndGlyphs">Anti-icing time (s)</text>
<text x="513.0" y="74.0" font-size="15.5" fill="#111" textLength="91.4" lengthAdjust="spacingAndGlyphs" >-20 °C 100 μL</text>
<clipPath id="ph0"><rect x="521.7" y="142.8" width="51.8" height="43.9"/></clipPath><g clip-path="url(#ph0)"><rect x="521.7" y="142.8" width="51.8" height="43.9" fill="#a8abac"/><rect x="518.7" y="138.8" width="57.8" height="12.3" fill="#96999b" opacity="0.8" filter="url(#b2)"/><ellipse cx="550.2" cy="170.9" rx="18.6" ry="9.7" fill="#bdc1c2" filter="url(#b2)"/><ellipse cx="533.1" cy="177.9" rx="10.4" ry="4.0" fill="#8f9496" opacity="0.7" filter="url(#b2)"/><path d="M574.5 166.9 Q566.5 177.9 564.5 187.7 L574.5 187.7 Z" fill="#dcdfdf" opacity="0.9" filter="url(#b1)"/></g>
<clipPath id="ph1"><rect x="608.9" y="65.8" width="51.0" height="44.3"/></clipPath><g clip-path="url(#ph1)"><rect x="608.9" y="65.8" width="51.0" height="44.3" fill="#b0b2b3"/><rect x="629.3" y="59.8" width="35.7" height="13.3" fill="#9ea0a2" opacity="0.7" filter="url(#b4)"/><path d="M608.9 90.2 L621.6 110.1" stroke="#c8caca" stroke-width="1.6" filter="url(#b1)"/><ellipse cx="635.4" cy="90.8" rx="18" ry="12.9" fill="#d3d5d6" filter="url(#b1)"/><ellipse cx="636.4" cy="89.3" rx="11" ry="7.5" fill="#e9ebeb" opacity="0.9" filter="url(#b2)"/><ellipse cx="635.9" cy="104.4" rx="15" ry="2.2" fill="#9a9d9f" opacity="0.55" filter="url(#b1)"/></g>
<clipPath id="ph2"><rect x="698.4" y="42.2" width="51.3" height="43.8"/></clipPath><g clip-path="url(#ph2)"><rect x="698.4" y="42.2" width="51.3" height="43.8" fill="#b5b7b8"/><rect x="694.4" y="73.7" width="59.3" height="17.5" fill="#cdcfcf" opacity="0.9" filter="url(#b4)"/><ellipse cx="724.0" cy="65.8" rx="17.7" ry="12.6" fill="#d9dbdb" filter="url(#b1)"/><ellipse cx="724.9" cy="64.2" rx="11" ry="7" fill="#ebeded" opacity="0.9" filter="url(#b2)"/><ellipse cx="724.4" cy="79.2" rx="15" ry="2" fill="#a2a5a7" opacity="0.5" filter="url(#b1)"/></g>
<text x="442.7" y="20.7" font-size="21" fill="#000" textLength="10.3" lengthAdjust="spacingAndGlyphs" >b</text>

<!-- 03_c.py -->
<defs>
<linearGradient id="lasG" x1="1" y1="0" x2="0" y2="1"><stop offset="0" stop-color="#f3bf12"/><stop offset="0.55" stop-color="#f6cc45"/><stop offset="1" stop-color="#fbe7a8"/></linearGradient>
<linearGradient id="beamG" x1="0" y1="0" x2="0" y2="1"><stop offset="0" stop-color="#e8121c"/><stop offset="1" stop-color="#f2404a"/></linearGradient>
<radialGradient id="iceC" cx="0.5" cy="0.5" r="0.5"><stop offset="0" stop-color="#dbe4f5"/><stop offset="0.55" stop-color="#bccbeb"/><stop offset="1" stop-color="#a6bae3"/></radialGradient>
<linearGradient id="camG" x1="0" y1="0.2" x2="1" y2="0.8"><stop offset="0" stop-color="#74746f"/><stop offset="0.45" stop-color="#4b4b47"/><stop offset="1" stop-color="#0e0c0a"/></linearGradient>
<linearGradient id="camL" x1="0" y1="0" x2="0.3" y2="1"><stop offset="0" stop-color="#4a4a46"/><stop offset="1" stop-color="#8c8c88"/></linearGradient>
</defs>
<rect x="804.6" y="31.2" width="244.2" height="256.4" fill="#fff" stroke="#1f3864" stroke-width="2.2"/>
<text x="827.0" y="61.4" font-size="15" fill="#111" textLength="206.8" lengthAdjust="spacingAndGlyphs" >Low-temperature test chamber</text>
<path d="M866.3 262.5 V92.5 a5 5 0 0 1 10 0 V262.5 Z" fill="#7f7f7f"/>
<rect x="843.8" y="103.3" width="130.7" height="9.8" rx="4.9" fill="#7f7f7f"/>
<rect x="866.3" y="103.3" width="10" height="9.8" fill="#4d4d4d"/>
<rect x="910.6" y="78.9" width="31.2" height="72.3" fill="url(#lasG)" stroke="#222" stroke-width="1.1"/>
<rect x="917" y="151.2" width="18.2" height="11" fill="url(#lasG)" stroke="#222" stroke-width="1.1"/>
<path d="M922 162.6 L930.4 162.6 L927.6 216.5 L924.6 216.5 Z" fill="url(#beamG)"/>
<rect x="888" y="250.2" width="75" height="12.4" fill="#c5e0b4"/>
<path d="M863.8 262.5 L978.8 262.5 L1001.4 281.8 L835 281.8 Z" fill="#404040"/>
<circle cx="925.9" cy="233.6" r="17.2" fill="url(#iceC)"/>
<text x="917.5" y="240.0" font-size="15" fill="#111" textLength="18.8" lengthAdjust="spacingAndGlyphs" >Ice</text>
<text x="992.5" y="108.0" font-size="15" fill="#111" textLength="26.5" lengthAdjust="spacingAndGlyphs" >1 W</text>
<text x="950.0" y="138.0" font-size="15" fill="#111" textLength="90.5" lengthAdjust="spacingAndGlyphs" >infrared laser</text>
<text x="813.8" y="152.0" font-size="15" fill="#111" textLength="41.5" lengthAdjust="spacingAndGlyphs" >-20 °C</text>
<text x="987.0" y="221.4" font-size="15" fill="#111" textLength="52.5" lengthAdjust="spacingAndGlyphs" >Camera</text>
<text x="976.3" y="263.0" font-size="15" fill="#111" textLength="48.8" lengthAdjust="spacingAndGlyphs" >Sample</text>
<path d="M966.3 179.8 L1011.5 149 L1029 175 L983.5 205.4 Z" fill="url(#camG)" stroke="#0c0c0c" stroke-width="1.1" stroke-linejoin="round"/>
<path d="M953.8 190.4 L970.6 187.6 L978.6 200.0 L969.5 213.8 Z" fill="url(#camL)" stroke="#0c0c0c" stroke-width="1.1" stroke-linejoin="round"/>
<g stroke="#2392f0" stroke-width="1.25" stroke-linecap="round" fill="none"><line x1="834.60" y1="175.80" x2="848.30" y2="175.80"/><line x1="844.05" y1="175.80" x2="846.58" y2="173.09"/><line x1="844.05" y1="175.80" x2="846.58" y2="178.51"/><line x1="840.63" y1="175.80" x2="842.96" y2="173.30"/><line x1="840.63" y1="175.80" x2="842.96" y2="178.30"/><line x1="834.60" y1="175.80" x2="844.29" y2="166.11"/><line x1="841.28" y1="169.12" x2="841.16" y2="165.42"/><line x1="841.28" y1="169.12" x2="844.98" y2="169.24"/><line x1="838.86" y1="171.54" x2="838.74" y2="168.11"/><line x1="838.86" y1="171.54" x2="842.29" y2="171.66"/><line x1="834.60" y1="175.80" x2="834.60" y2="162.10"/><line x1="834.60" y1="166.35" x2="831.89" y2="163.82"/><line x1="834.60" y1="166.35" x2="837.31" y2="163.82"/><line x1="834.60" y1="169.77" x2="832.10" y2="167.44"/><line x1="834.60" y1="169.77" x2="837.10" y2="167.44"/><line x1="834.60" y1="175.80" x2="824.91" y2="166.11"/><line x1="827.92" y1="169.12" x2="824.22" y2="169.24"/><line x1="827.92" y1="169.12" x2="828.04" y2="165.42"/><line x1="830.34" y1="171.54" x2="826.91" y2="171.66"/><line x1="830.34" y1="171.54" x2="830.46" y2="168.11"/><line x1="834.60" y1="175.80" x2="820.90" y2="175.80"/><line x1="825.15" y1="175.80" x2="822.62" y2="178.51"/><line x1="825.15" y1="175.80" x2="822.62" y2="173.09"/><line x1="828.57" y1="175.80" x2="826.24" y2="178.30"/><line x1="828.57" y1="175.80" x2="826.24" y2="173.30"/><line x1="834.60" y1="175.80" x2="824.91" y2="185.49"/><line x1="827.92" y1="182.48" x2="828.04" y2="186.18"/><line x1="827.92" y1="182.48" x2="824.22" y2="182.36"/><line x1="830.34" y1="180.06" x2="830.46" y2="183.49"/><line x1="830.34" y1="180.06" x2="826.91" y2="179.94"/><line x1="834.60" y1="175.80" x2="834.60" y2="189.50"/><line x1="834.60" y1="185.25" x2="837.31" y2="187.78"/><line x1="834.60" y1="185.25" x2="831.89" y2="187.78"/><line x1="834.60" y1="181.83" x2="837.10" y2="184.16"/><line x1="834.60" y1="181.83" x2="832.10" y2="184.16"/><line x1="834.60" y1="175.80" x2="844.29" y2="185.49"/><line x1="841.28" y1="182.48" x2="844.98" y2="182.36"/><line x1="841.28" y1="182.48" x2="841.16" y2="186.18"/><line x1="838.86" y1="180.06" x2="842.29" y2="179.94"/><line x1="838.86" y1="180.06" x2="838.74" y2="183.49"/></g><circle cx="834.60" cy="175.80" r="1.56" fill="#2392f0"/>
<text x="782.5" y="20.5" font-size="21" fill="#000" textLength="8.9" lengthAdjust="spacingAndGlyphs" >c</text>

<!-- 04_d.py -->
<defs>
<linearGradient id="barD" x1="0" y1="0" x2="0" y2="1"><stop offset="0" stop-color="#ff7077"/><stop offset="0.2" stop-color="#f87783"/><stop offset="0.5" stop-color="#c695c4"/><stop offset="0.8" stop-color="#6fb6ee"/><stop offset="1" stop-color="#4cc0fa"/></linearGradient>
</defs>
<rect x="86.2" y="523.2" width="27.5" height="75.8" fill="url(#barD)"/>
<rect x="154.9" y="473.6" width="27.5" height="125.4" fill="url(#barD)"/>
<rect x="223.8" y="389.4" width="27.5" height="209.6" fill="url(#barD)"/>
<rect x="292.2" y="389.4" width="27.5" height="209.6" fill="url(#barD)"/>
<path d="M100.4 520 V526.4 M97.6 520 H103.2 M97.6 526.4 H103.2" stroke="#222" stroke-width="0.9" fill="none"/>
<rect x="65.8" y="347.0" width="275.0" height="252.0" fill="none" stroke="#1a1a1a" stroke-width="1.1"/>
<line x1="65.8" y1="599.0" x2="70.4" y2="599.0" stroke="#1a1a1a" stroke-width="1"/>
<text x="60.2" y="604.1" font-size="15" fill="#111" text-anchor="end" >0</text>
<line x1="65.8" y1="578.0" x2="68.8" y2="578.0" stroke="#1a1a1a" stroke-width="1"/>
<line x1="65.8" y1="557.0" x2="70.4" y2="557.0" stroke="#1a1a1a" stroke-width="1"/>
<text x="60.2" y="562.1" font-size="15" fill="#111" text-anchor="end" >100</text>
<line x1="65.8" y1="536.0" x2="68.8" y2="536.0" stroke="#1a1a1a" stroke-width="1"/>
<line x1="65.8" y1="515.0" x2="70.4" y2="515.0" stroke="#1a1a1a" stroke-width="1"/>
<text x="60.2" y="520.1" font-size="15" fill="#111" text-anchor="end" >200</text>
<line x1="65.8" y1="494.0" x2="68.8" y2="494.0" stroke="#1a1a1a" stroke-width="1"/>
<line x1="65.8" y1="473.0" x2="70.4" y2="473.0" stroke="#1a1a1a" stroke-width="1"/>
<text x="60.2" y="478.1" font-size="15" fill="#111" text-anchor="end" >300</text>
<line x1="65.8" y1="452.0" x2="68.8" y2="452.0" stroke="#1a1a1a" stroke-width="1"/>
<line x1="65.8" y1="431.0" x2="70.4" y2="431.0" stroke="#1a1a1a" stroke-width="1"/>
<text x="60.2" y="436.1" font-size="15" fill="#111" text-anchor="end" >400</text>
<line x1="65.8" y1="410.0" x2="68.8" y2="410.0" stroke="#1a1a1a" stroke-width="1"/>
<line x1="65.8" y1="389.0" x2="70.4" y2="389.0" stroke="#1a1a1a" stroke-width="1"/>
<text x="60.2" y="394.1" font-size="15" fill="#111" text-anchor="end" >500</text>
<line x1="65.8" y1="368.0" x2="68.8" y2="368.0" stroke="#1a1a1a" stroke-width="1"/>
<line x1="65.8" y1="347.0" x2="70.4" y2="347.0" stroke="#1a1a1a" stroke-width="1"/>
<text x="60.2" y="352.1" font-size="15" fill="#111" text-anchor="end" >600</text>
<text x="73.0" y="617.0" font-size="15" fill="#111" textLength="54.6" lengthAdjust="spacingAndGlyphs" >HMPVS</text>
<text x="155.0" y="617.0" font-size="15" fill="#111" textLength="27.4" lengthAdjust="spacingAndGlyphs" >SVS</text>
<text x="213.4" y="617.0" font-size="15" fill="#111" textLength="47.0" lengthAdjust="spacingAndGlyphs" >HMPV</text>
<text x="296.3" y="617.0" font-size="15" fill="#111" textLength="18.8" lengthAdjust="spacingAndGlyphs" >SV</text>
<text x="0" y="0" font-size="15.5" fill="#111" text-anchor="middle" transform="translate(31.6 472.8) rotate(-90)" textLength="116.5" lengthAdjust="spacingAndGlyphs">De-icing time (s)</text>
<text x="78.4" y="388.6" font-size="15.5" fill="#111" textLength="41.0" lengthAdjust="spacingAndGlyphs" >-20 °C</text>
<text x="128.0" y="388.6" font-size="15.5" fill="#111" textLength="38.0" lengthAdjust="spacingAndGlyphs" >20 μL</text>
<text x="146.0" y="428.0" font-size="15" fill="#111" textLength="44.0" lengthAdjust="spacingAndGlyphs" >Partial</text>
<text x="143.6" y="447.0" font-size="15" fill="#111" textLength="49.4" lengthAdjust="spacingAndGlyphs" >melting</text>
<text x="75.0" y="479.6" font-size="15" fill="#111" textLength="63.0" lengthAdjust="spacingAndGlyphs" >Complete</text>
<text x="82.0" y="498.0" font-size="15" fill="#111" textLength="49.0" lengthAdjust="spacingAndGlyphs" >melting</text>
<text x="256.7" y="374.8" font-size="15" fill="#111" textLength="42.8" lengthAdjust="spacingAndGlyphs" >Freeze</text>
<path d="M168.6 455.4 L173.3 461.4 L170.9 461.4 L170.9 473.4 L166.3 473.4 L166.3 461.4 L163.9 461.4 Z" fill="#000"/>
<path d="M100.6 506.8 L105.4 512.6 L103.3 512.6 L103.3 519.4 L97.9 519.4 L97.9 512.6 L95.8 512.6 Z" fill="#000"/>
<path transform="translate(244.4 394.0) rotate(-50.0)" d="M0 -2.1 L12.5 -2.1 L12.5 -4.8 L18.0 0 L12.5 4.8 L12.5 2.1 L0 2.1 Z" fill="#000"/>
<path transform="translate(306.6 391.0) rotate(-141.7)" d="M0 -2.1 L12.6 -2.1 L12.6 -4.8 L18.1 0 L12.6 4.8 L12.6 2.1 L0 2.1 Z" fill="#000"/>
<text x="10.0" y="342.7" font-size="21" fill="#000" textLength="10.0" lengthAdjust="spacingAndGlyphs" >d</text>

<!-- 05_e.py -->
<defs>
<radialGradient id="th_halo" cx="0.5" cy="0.5" r="0.5"><stop offset="0" stop-color="#1e92ee" stop-opacity="1"/><stop offset="0.35" stop-color="#1982e6" stop-opacity="0.95"/><stop offset="0.7" stop-color="#1068d4" stop-opacity="0.55"/><stop offset="1" stop-color="#0b5bc8" stop-opacity="0"/></radialGradient>
<filter id="thb" x="-30%" y="-30%" width="160%" height="160%"><feGaussianBlur stdDeviation="1.25"/></filter>
<linearGradient id="thside" x1="0" y1="0" x2="1" y2="0"><stop offset="0" stop-color="#083f9c" stop-opacity="0.6"/><stop offset="0.16" stop-color="#083f9c" stop-opacity="0"/><stop offset="1" stop-color="#083f9c" stop-opacity="0"/></linearGradient>
<linearGradient id="thtb" x1="0" y1="0" x2="0" y2="1"><stop offset="0" stop-color="#083f9c" stop-opacity="0.35"/><stop offset="0.2" stop-color="#083f9c" stop-opacity="0"/><stop offset="0.8" stop-color="#083f9c" stop-opacity="0"/><stop offset="1" stop-color="#083f9c" stop-opacity="0.4"/></linearGradient>
<linearGradient id="cbar" x1="0" y1="0" x2="0" y2="1">
<stop offset="0.000" stop-color="#f2d9c4"/>
<stop offset="0.066" stop-color="#f4b8b0"/>
<stop offset="0.123" stop-color="#f07080"/>
<stop offset="0.169" stop-color="#ec2840"/>
<stop offset="0.226" stop-color="#ee2838"/>
<stop offset="0.272" stop-color="#f06030"/>
<stop offset="0.317" stop-color="#f09020"/>
<stop offset="0.386" stop-color="#ecc810"/>
<stop offset="0.443" stop-color="#e0d808"/>
<stop offset="0.511" stop-color="#a8cc10"/>
<stop offset="0.568" stop-color="#60b020"/>
<stop offset="0.637" stop-color="#28a068"/>
<stop offset="0.683" stop-color="#1088c0"/>
<stop offset="0.740" stop-color="#0870e0"/>
<stop offset="0.808" stop-color="#0850c0"/>
<stop offset="0.865" stop-color="#083898"/>
<stop offset="0.911" stop-color="#101860"/>
<stop offset="1.000" stop-color="#000850"/>
</linearGradient></defs>
<clipPath id="tc00"><rect x="376.8" y="348.4" width="71.4" height="47.4"/></clipPath>
<g clip-path="url(#tc00)">
<rect x="376.8" y="348.4" width="71.4" height="47.4" fill="#0b5bc8"/>
<ellipse cx="412.2" cy="370.5" rx="37.3" ry="26.3" fill="url(#th_halo)" opacity="1"/><g filter="url(#thb)"><ellipse cx="412.2" cy="370.5" rx="18.9" ry="12.3" fill="#1492bc"/><ellipse cx="412.2" cy="370.5" rx="16.3" ry="10.4" fill="#3aa858"/><ellipse cx="412.2" cy="370.5" rx="13.9" ry="8.4" fill="#a6cc12"/><ellipse cx="412.2" cy="370.5" rx="10.0" ry="5.7" fill="#e6d40c"/><ellipse cx="412.2" cy="370.5" rx="5.5" ry="3.3" fill="#f08820"/></g>
<rect x="376.8" y="348.4" width="71.4" height="47.4" fill="url(#thside)"/>
<rect x="376.8" y="348.4" width="71.4" height="47.4" fill="url(#thtb)"/>
</g>
<clipPath id="tc01"><rect x="447.9" y="348.4" width="71.4" height="47.4"/></clipPath>
<g clip-path="url(#tc01)">
<rect x="447.9" y="348.4" width="71.4" height="47.4" fill="#0b5bc8"/>
<ellipse cx="484.4" cy="373.2" rx="45.5" ry="32.1" fill="url(#th_halo)" opacity="1"/><g filter="url(#thb)"><ellipse cx="484.4" cy="373.2" rx="23.5" ry="16.2" fill="#1492bc"/><ellipse cx="484.4" cy="373.2" rx="20.3" ry="13.7" fill="#3aa858"/><ellipse cx="484.4" cy="373.2" rx="17.4" ry="11.3" fill="#a6cc12"/><ellipse cx="484.4" cy="373.2" rx="12.6" ry="7.8" fill="#e6d40c"/><ellipse cx="484.4" cy="373.2" rx="11.0" ry="6.3" fill="#f08a1e"/><ellipse cx="484.4" cy="373.2" rx="8.0" ry="4.2" fill="#ee2a38"/></g>
<rect x="447.9" y="348.4" width="71.4" height="47.4" fill="url(#thside)"/>
<rect x="447.9" y="348.4" width="71.4" height="47.4" fill="url(#thtb)"/>
</g>
<clipPath id="tc02"><rect x="519.0" y="348.4" width="71.4" height="47.4"/></clipPath>
<g clip-path="url(#tc02)">
<rect x="519.0" y="348.4" width="71.4" height="47.4" fill="#0b5bc8"/>
<ellipse cx="553.9" cy="372.3" rx="46.9" ry="32.7" fill="url(#th_halo)" opacity="1"/><g filter="url(#thb)"><ellipse cx="553.9" cy="372.3" rx="24.7" ry="17.1" fill="#1492bc"/><ellipse cx="553.9" cy="372.3" rx="21.3" ry="14.5" fill="#3aa858"/><ellipse cx="553.9" cy="372.3" rx="18.1" ry="11.8" fill="#a6cc12"/><ellipse cx="553.9" cy="372.3" rx="13.0" ry="8.1" fill="#e6d40c"/><ellipse cx="553.9" cy="372.3" rx="11.5" ry="6.5" fill="#f08a1e"/><ellipse cx="553.9" cy="372.3" rx="8.5" ry="4.3" fill="#ee2a38"/></g>
<rect x="519.0" y="348.4" width="71.4" height="47.4" fill="url(#thside)"/>
<rect x="519.0" y="348.4" width="71.4" height="47.4" fill="url(#thtb)"/>
</g>
<clipPath id="tc03"><rect x="590.1" y="348.4" width="71.4" height="47.4"/></clipPath>
<g clip-path="url(#tc03)">
<rect x="590.1" y="348.4" width="71.4" height="47.4" fill="#0b5bc8"/>
<ellipse cx="624.8" cy="372.3" rx="48.3" ry="34.1" fill="url(#th_halo)" opacity="1"/><g filter="url(#thb)"><ellipse cx="624.8" cy="372.3" rx="26.0" ry="17.8" fill="#1492bc"/><ellipse cx="624.8" cy="372.3" rx="22.4" ry="15.1" fill="#3aa858"/><ellipse cx="624.8" cy="372.3" rx="19.2" ry="12.5" fill="#a6cc12"/><ellipse cx="624.8" cy="372.3" rx="13.9" ry="8.7" fill="#e6d40c"/><ellipse cx="624.8" cy="372.3" rx="12.5" ry="7.0" fill="#f08a1e"/><ellipse cx="624.8" cy="372.3" rx="9.6" ry="4.8" fill="#ee2a38"/><ellipse cx="624.8" cy="372.3" rx="2.6" ry="1.3" fill="#f28a96"/></g>
<rect x="590.1" y="348.4" width="71.4" height="47.4" fill="url(#thside)"/>
<rect x="590.1" y="348.4" width="71.4" height="47.4" fill="url(#thtb)"/>
</g>
<clipPath id="tc10"><rect x="376.8" y="416.7" width="71.4" height="47.4"/></clipPath>
<g clip-path="url(#tc10)">
<rect x="376.8" y="416.7" width="71.4" height="47.4" fill="#0b5bc8"/>
<ellipse cx="412.2" cy="439.8" rx="36.8" ry="24.1" fill="url(#th_halo)" opacity="1"/><g filter="url(#thb)"><ellipse cx="412.2" cy="439.8" rx="16.7" ry="11.1" fill="#1492bc"/><ellipse cx="412.2" cy="439.8" rx="14.4" ry="9.4" fill="#3aa858"/><ellipse cx="412.2" cy="439.8" rx="11.4" ry="7.1" fill="#a6cc12"/><ellipse cx="412.2" cy="439.8" rx="7.5" ry="4.4" fill="#e6d40c"/><ellipse cx="412.2" cy="439.8" rx="4.0" ry="2.2" fill="#ecc010"/></g>
<rect x="376.8" y="416.7" width="71.4" height="47.4" fill="url(#thside)"/>
<rect x="376.8" y="416.7" width="71.4" height="47.4" fill="url(#thtb)"/>
</g>
<clipPath id="tc11"><rect x="447.9" y="416.7" width="71.4" height="47.4"/></clipPath>
<g clip-path="url(#tc11)">
<rect x="447.9" y="416.7" width="71.4" height="47.4" fill="#0b5bc8"/>
<ellipse cx="483.3" cy="441.3" rx="42.4" ry="28.4" fill="url(#th_halo)" opacity="1"/><g filter="url(#thb)"><ellipse cx="483.3" cy="441.3" rx="19.7" ry="12.6" fill="#1492bc"/><ellipse cx="483.3" cy="441.3" rx="17.0" ry="10.7" fill="#3aa858"/><ellipse cx="483.3" cy="441.3" rx="13.8" ry="8.3" fill="#a6cc12"/><ellipse cx="483.3" cy="441.3" rx="9.3" ry="5.4" fill="#e6d40c"/><ellipse cx="483.3" cy="441.3" rx="5.2" ry="2.8" fill="#f09a1c"/></g>
<rect x="447.9" y="416.7" width="71.4" height="47.4" fill="url(#thside)"/>
<rect x="447.9" y="416.7" width="71.4" height="47.4" fill="url(#thtb)"/>
</g>
<clipPath id="tc12"><rect x="519.0" y="416.7" width="71.4" height="47.4"/></clipPath>
<g clip-path="url(#tc12)">
<rect x="519.0" y="416.7" width="71.4" height="47.4" fill="#0b5bc8"/>
<ellipse cx="553.7" cy="439.6" rx="44.2" ry="30.5" fill="url(#th_halo)" opacity="1"/><g filter="url(#thb)"><ellipse cx="553.7" cy="439.6" rx="21.9" ry="14.6" fill="#1492bc"/><ellipse cx="553.7" cy="439.6" rx="18.9" ry="12.4" fill="#3aa858"/><ellipse cx="553.7" cy="439.6" rx="15.7" ry="9.9" fill="#a6cc12"/><ellipse cx="553.7" cy="439.6" rx="10.9" ry="6.6" fill="#e6d40c"/><ellipse cx="553.7" cy="439.6" rx="8.5" ry="4.6" fill="#f0a01c"/><ellipse cx="553.7" cy="439.6" rx="5.2" ry="2.7" fill="#f06a24"/></g>
<rect x="519.0" y="416.7" width="71.4" height="47.4" fill="url(#thside)"/>
<rect x="519.0" y="416.7" width="71.4" height="47.4" fill="url(#thtb)"/>
</g>
<clipPath id="tc13"><rect x="590.1" y="416.7" width="71.4" height="47.4"/></clipPath>
<g clip-path="url(#tc13)">
<rect x="590.1" y="416.7" width="71.4" height="47.4" fill="#0b5bc8"/>
<ellipse cx="625.3" cy="439.9" rx="46.9" ry="32.7" fill="url(#th_halo)" opacity="1"/><g filter="url(#thb)"><ellipse cx="625.3" cy="439.9" rx="24.9" ry="16.2" fill="#1492bc"/><ellipse cx="625.3" cy="439.9" rx="21.5" ry="13.7" fill="#3aa858"/><ellipse cx="625.3" cy="439.9" rx="17.8" ry="11.3" fill="#a6cc12"/><ellipse cx="625.3" cy="439.9" rx="12.4" ry="7.8" fill="#e6d40c"/><ellipse cx="625.3" cy="439.9" rx="9.6" ry="4.8" fill="#f08a1e"/><ellipse cx="625.3" cy="439.9" rx="5.4" ry="2.5" fill="#ee2a38"/></g>
<rect x="590.1" y="416.7" width="71.4" height="47.4" fill="url(#thside)"/>
<rect x="590.1" y="416.7" width="71.4" height="47.4" fill="url(#thtb)"/>
</g>
<clipPath id="tc20"><rect x="376.8" y="485.0" width="71.4" height="47.7"/></clipPath>
<g clip-path="url(#tc20)">
<rect x="376.8" y="485.0" width="71.4" height="47.7" fill="#0b5bc8"/>
<ellipse cx="410.0" cy="508.3" rx="38.6" ry="24.1" fill="url(#th_halo)" opacity="1"/><g filter="url(#thb)"><ellipse cx="410.0" cy="508.3" rx="7.0" ry="3.2" fill="#1a9ccc"/></g>
<rect x="376.8" y="485.0" width="71.4" height="47.7" fill="url(#thside)"/>
<rect x="376.8" y="485.0" width="71.4" height="47.7" fill="url(#thtb)"/>
</g>
<clipPath id="tc21"><rect x="447.9" y="485.0" width="71.4" height="47.7"/></clipPath>
<g clip-path="url(#tc21)">
<rect x="447.9" y="485.0" width="71.4" height="47.7" fill="#0b5bc8"/>
<ellipse cx="483.3" cy="507.3" rx="38.6" ry="25.6" fill="url(#th_halo)" opacity="1"/><g filter="url(#thb)"><ellipse cx="483.3" cy="507.3" rx="9.9" ry="5.4" fill="#1492bc"/><ellipse cx="483.3" cy="507.3" rx="8.5" ry="4.6" fill="#3aa858"/><ellipse cx="483.3" cy="507.3" rx="3.8" ry="2.0" fill="#62b630"/></g>
<rect x="447.9" y="485.0" width="71.4" height="47.7" fill="url(#thside)"/>
<rect x="447.9" y="485.0" width="71.4" height="47.7" fill="url(#thtb)"/>
</g>
<clipPath id="tc22"><rect x="519.0" y="485.0" width="71.4" height="47.7"/></clipPath>
<g clip-path="url(#tc22)">
<rect x="519.0" y="485.0" width="71.4" height="47.7" fill="#0b5bc8"/>
<ellipse cx="553.7" cy="509.0" rx="40.8" ry="27.0" fill="url(#th_halo)" opacity="1"/><g filter="url(#thb)"><ellipse cx="553.7" cy="509.0" rx="11.0" ry="6.1" fill="#1492bc"/><ellipse cx="553.7" cy="509.0" rx="9.5" ry="5.2" fill="#3aa858"/><ellipse cx="553.7" cy="509.0" rx="4.4" ry="2.3" fill="#88c020"/></g>
<rect x="519.0" y="485.0" width="71.4" height="47.7" fill="url(#thside)"/>
<rect x="519.0" y="485.0" width="71.4" height="47.7" fill="url(#thtb)"/>
</g>
<clipPath id="tc23"><rect x="590.1" y="485.0" width="73.0" height="47.7"/></clipPath>
<g clip-path="url(#tc23)">
<rect x="590.1" y="485.0" width="73.0" height="47.7" fill="#0b5bc8"/>
<ellipse cx="626.3" cy="508.5" rx="41.4" ry="28.4" fill="url(#th_halo)" opacity="1"/><g filter="url(#thb)"><ellipse cx="626.3" cy="508.5" rx="12.1" ry="6.7" fill="#1492bc"/><ellipse cx="626.3" cy="508.5" rx="10.4" ry="5.7" fill="#3aa858"/><ellipse cx="626.3" cy="508.5" rx="5.0" ry="2.7" fill="#a4c81a"/></g>
<rect x="590.1" y="485.0" width="73.0" height="47.7" fill="url(#thside)"/>
<rect x="590.1" y="485.0" width="73.0" height="47.7" fill="url(#thtb)"/>
</g>
<clipPath id="tc30"><rect x="376.8" y="553.4" width="71.4" height="48.2"/></clipPath>
<g clip-path="url(#tc30)">
<rect x="376.8" y="553.4" width="71.4" height="48.2" fill="#0b5bc8"/>
<ellipse cx="410.0" cy="576.7" rx="35.9" ry="21.3" fill="url(#th_halo)" opacity="0.95"/><g filter="url(#thb)"></g>
<rect x="376.8" y="553.4" width="71.4" height="48.2" fill="url(#thside)"/>
<rect x="376.8" y="553.4" width="71.4" height="48.2" fill="url(#thtb)"/>
</g>
<clipPath id="tc31"><rect x="447.9" y="553.4" width="71.4" height="48.2"/></clipPath>
<g clip-path="url(#tc31)">
<rect x="447.9" y="553.4" width="71.4" height="48.2" fill="#0b5bc8"/>
<ellipse cx="481.7" cy="576.7" rx="38.6" ry="22.7" fill="url(#th_halo)" opacity="0.95"/><g filter="url(#thb)"></g>
<rect x="447.9" y="553.4" width="71.4" height="48.2" fill="url(#thside)"/>
<rect x="447.9" y="553.4" width="71.4" height="48.2" fill="url(#thtb)"/>
</g>
<clipPath id="tc32"><rect x="519.0" y="553.4" width="71.4" height="48.2"/></clipPath>
<g clip-path="url(#tc32)">
<rect x="519.0" y="553.4" width="71.4" height="48.2" fill="#0b5bc8"/>
<ellipse cx="555.0" cy="576.7" rx="38.6" ry="22.7" fill="url(#th_halo)" opacity="0.95"/><g filter="url(#thb)"></g>
<rect x="519.0" y="553.4" width="71.4" height="48.2" fill="url(#thside)"/>
<rect x="519.0" y="553.4" width="71.4" height="48.2" fill="url(#thtb)"/>
</g>
<clipPath id="tc33"><rect x="590.1" y="553.4" width="72.2" height="48.2"/></clipPath>
<g clip-path="url(#tc33)">
<rect x="590.1" y="553.4" width="72.2" height="48.2" fill="#0b5bc8"/>
<ellipse cx="626.7" cy="576.0" rx="38.6" ry="22.7" fill="url(#th_halo)" opacity="0.95"/><g filter="url(#thb)"></g>
<rect x="590.1" y="553.4" width="72.2" height="48.2" fill="url(#thside)"/>
<rect x="590.1" y="553.4" width="72.2" height="48.2" fill="url(#thtb)"/>
</g>
<text x="377.3" y="346.6" font-size="13.8" fill="#111" textLength="56.7" lengthAdjust="spacingAndGlyphs" >HMPVS</text>
<text x="377.3" y="413.8" font-size="13.8" fill="#111" textLength="28.4" lengthAdjust="spacingAndGlyphs" >SVS</text>
<text x="377.3" y="480.2" font-size="13.8" fill="#111" textLength="45.4" lengthAdjust="spacingAndGlyphs" >HMPV</text>
<text x="377.3" y="549.3" font-size="13.8" fill="#111" textLength="17.8" lengthAdjust="spacingAndGlyphs" >SV</text>
<text x="401.7" y="618.6" font-size="14" fill="#111" textLength="15.0" lengthAdjust="spacingAndGlyphs" >10</text>
<text x="475.0" y="618.6" font-size="14" fill="#111" textLength="15.6" lengthAdjust="spacingAndGlyphs" >20</text>
<text x="546.0" y="618.6" font-size="14" fill="#111" textLength="15.6" lengthAdjust="spacingAndGlyphs" >30</text>
<text x="610.7" y="618.6" font-size="14" fill="#111" textLength="36.0" lengthAdjust="spacingAndGlyphs" >90 (s)</text>
<text x="672.3" y="346.6" font-size="14" fill="#111" textLength="36.0" lengthAdjust="spacingAndGlyphs" >80 °C</text>
<text x="672.3" y="618.6" font-size="14" fill="#111" textLength="36.0" lengthAdjust="spacingAndGlyphs" >20 °C</text>
<rect x="674.6" y="352" width="12.6" height="249.6" fill="url(#cbar)"/>
<text x="625.0" y="389.0" font-size="10.5" fill="#fff" textLength="34.0" lengthAdjust="spacingAndGlyphs" >10 mm</text>
<rect x="626.6" y="391.8" width="30.2" height="1.7" fill="#fff"/>
<text x="354.9" y="340.6" font-size="21" fill="#000" textLength="8.1" lengthAdjust="spacingAndGlyphs" >e</text>

<!-- 06_f.py -->
<defs><linearGradient id="fbg" x1="0" y1="0" x2="1" y2="0">
<stop offset="0" stop-color="#f9bcc0"/><stop offset="0.30" stop-color="#f7c6cd"/><stop offset="0.52" stop-color="#ecd3e2"/><stop offset="0.68" stop-color="#d4d9ee"/><stop offset="0.85" stop-color="#bcdcf4"/><stop offset="1" stop-color="#aee0f7"/></linearGradient>
<clipPath id="fclip"><rect x="756.9" y="360.4" width="316.9" height="235.8"/></clipPath></defs>
<rect x="756.9" y="360.4" width="316.9" height="235.8" fill="url(#fbg)"/>
<g clip-path="url(#fclip)" fill="none" stroke-width="1.25" stroke-linejoin="round">
<path d="M776.6 581.9 L777.3 553.1 L777.9 530.3 L778.6 512.0 L779.3 497.4 L779.9 485.0 L780.6 474.3 L781.2 465.8 L781.9 458.5 L782.6 452.8 L783.2 447.7 L783.9 443.5 L784.6 440.6 L785.2 436.7 L785.9 433.5 L786.5 430.8 L787.2 429.3 L787.9 427.7 L788.5 425.7 L789.2 423.7 L789.9 421.5 L790.5 419.9 L791.2 418.1 L791.9 417.1 L792.5 415.6 L793.2 414.2 L793.8 413.4 L794.5 411.6 L795.2 410.6 L795.8 409.3 L796.5 409.1 L797.2 408.6 L797.8 407.9 L798.5 407.1 L799.1 406.0 L799.8 405.3 L800.5 404.9 L801.1 404.6 L801.8 404.1 L802.5 402.8 L803.1 402.7 L803.8 402.0 L804.5 401.3 L805.1 401.5 L805.8 400.8 L806.4 399.7 L807.1 400.3 L807.8 399.8 L808.4 399.3 L809.1 399.2 L809.8 398.4 L810.4 398.1 L811.1 398.4 L811.7 397.4 L812.4 396.9 L813.1 396.3 L813.7 395.7 L814.4 395.7 L815.1 395.7 L815.7 396.3 L816.4 395.7 L817.1 395.8 L817.7 395.8 L818.4 396.0 L819.0 396.0 L819.7 395.7 L820.4 394.8 L821.0 395.6 L821.7 395.7 L822.4 395.1 L823.0 394.1 L823.7 393.9 L824.3 394.8 L825.0 395.6 L825.7 394.8 L826.3 394.8 L827.0 394.9 L827.7 394.0 L828.3 393.4 L829.0 393.5 L829.7 393.5 L830.3 393.3 L831.0 392.7 L831.6 392.8 L832.3 392.9 L833.0 392.9 L833.6 393.8 L834.3 393.1 L835.0 392.8 L835.6 392.8 L836.3 393.9 L836.9 393.9 L837.6 393.3 L838.3 394.1 L838.9 393.8 L839.6 393.1 L840.3 393.7 L840.9 392.8 L841.6 392.7 L842.3 392.9 L842.9 392.8 L843.6 392.6 L844.2 392.7 L844.9 392.3 L845.6 392.8 L846.2 393.0 L846.9 392.5 L847.6 392.6 L848.2 393.0 L848.9 392.4 L849.5 391.9 L850.2 392.3 L850.9 393.0 L851.5 392.8 L852.2 392.7 L852.9 392.7 L853.5 391.9 L854.2 392.5 L854.9 391.8 L855.5 392.5 L856.2 392.6 L856.8 392.1 L857.5 391.5 L858.2 391.3 L858.8 391.4 L859.5 391.5 L860.2 391.5 L860.8 391.3 L861.5 391.5 L862.1 391.4 L862.8 391.2 L863.5 391.3 L864.1 391.0 L864.8 390.9 L865.5 390.2 L866.1 390.4 L866.8 390.9 L867.5 391.1 L868.1 391.1 L868.8 390.7 L869.4 391.0 L870.1 390.8 L870.8 390.1 L871.4 391.5 L872.1 391.7 L872.8 391.3 L873.4 390.9 L874.1 390.8 L874.7 391.0 L875.4 390.6 L876.1 390.5 L876.7 390.8 L877.4 389.8 L878.1 390.0 L878.7 390.5 L879.4 390.6 L880.1 390.8 L880.7 390.8 L881.4 391.9 L882.0 391.7 L882.7 390.9 L883.4 391.3 L884.0 391.2 L884.7 390.6 L885.4 390.3 L886.0 389.9 L886.7 391.0 L887.3 391.1 L888.0 391.2 L888.7 390.8 L889.3 390.4 L890.0 391.8 L890.7 391.0 L891.3 391.6 L892.0 391.1 L892.7 391.7 L893.3 391.4 L894.0 390.8 L894.6 391.0 L895.3 391.0 L896.0 390.7 L896.6 390.9 L897.3 391.0 L898.0 390.5 L898.6 390.3 L899.3 390.8 L899.9 389.8 L900.6 390.9 L901.3 390.7 L901.9 391.0 L902.6 391.1 L903.3 390.9 L903.9 390.9 L904.6 390.8 L905.3 391.7 L905.9 392.2 L906.6 391.5 L907.2 391.8 L907.9 392.0 L908.6 392.3 L909.2 391.3 L909.9 391.0 L910.6 390.4 L911.2 391.1 L911.9 391.1 L912.5 391.6 L913.2 391.0 L913.9 390.3 L914.5 391.0 L915.2 390.3 L915.9 390.1 L916.5 390.5 L917.2 391.5 L917.9 390.6 L918.5 390.7 L919.2 390.9 L919.8 390.6 L920.5 390.5 L921.2 389.8 L921.8 390.6 L922.5 390.0 L923.2 389.6 L923.8 389.3 L924.5 389.8 L925.1 390.3 L925.8 389.9 L926.5 390.0 L927.1 390.0 L927.8 389.5 L928.5 389.9 L929.1 390.9 L929.8 390.8 L930.5 391.3 L931.1 390.4 L931.8 390.1 L932.4 390.3 L933.1 390.2 L933.8 389.8 L934.4 389.8 L935.1 389.3 L935.8 389.6 L936.4 446.5 L937.1 472.0 L937.7 485.5 L938.4 495.2 L939.1 501.8 L939.7 508.5 L940.4 513.7 L941.1 518.7 L941.7 521.8 L942.4 525.8 L943.1 528.9 L943.7 531.9 L944.4 534.5 L945.0 537.3 L945.7 539.4 L946.4 540.7 L947.0 543.0 L947.7 544.8 L948.4 546.3 L949.0 548.3 L949.7 550.4 L950.3 551.9 L951.0 552.5 L951.7 554.5 L952.3 555.7 L953.0 556.0 L953.7 556.7 L954.3 557.8 L955.0 558.4 L955.7 559.4 L956.3 560.8 L957.0 562.1 L957.6 562.8 L958.3 562.7 L959.0 563.6 L959.6 564.4 L960.3 565.1 L961.0 566.1 L961.6 566.2 L962.3 566.9 L962.9 566.9 L963.6 568.2 L964.3 568.0 L964.9 568.4 L965.6 569.4 L966.3 569.0 L966.9 569.3 L967.6 570.5 L968.3 570.7 L968.9 570.5 L969.6 570.8 L970.2 570.6 L970.9 570.5 L971.6 570.7 L972.2 571.0 L972.9 570.8 L973.6 571.1 L974.2 571.5 L974.9 572.9 L975.5 572.5 L976.2 572.2 L976.9 572.7 L977.5 573.2 L978.2 572.6 L978.9 573.8 L979.5 573.7 L980.2 572.8 L980.9 573.8 L981.5 573.7 L982.2 573.3 L982.8 573.9 L983.5 574.0 L984.2 574.0 L984.8 574.8 L985.5 575.0 L986.2 575.0 L986.8 574.8 L987.5 575.1 L988.1 575.4 L988.8 576.0 L989.5 576.1 L990.1 575.7 L990.8 575.8 L991.5 576.3 L992.1 576.7 L992.8 575.4 L993.5 575.3 L994.1 575.6 L994.8 577.1 L995.4 576.7 L996.1 576.6 L996.8 576.0 L997.4 576.3 L998.1 576.7 L998.8 576.7 L999.4 577.8 L1000.1 577.2 L1000.7 577.2 L1001.4 577.7 L1002.1 577.2 L1002.7 576.7 L1003.4 577.8 L1004.1 578.2 L1004.7 578.1 L1005.4 578.1 L1006.0 578.4 L1006.7 578.8 L1007.4 577.8 L1008.0 577.7 L1008.7 578.7 L1009.4 579.3 L1010.0 578.4 L1010.7 578.3 L1011.4 577.8 L1012.0 578.1 L1012.7 578.9 L1013.3 579.0 L1014.0 580.1 L1014.7 580.3 L1015.3 580.0 L1016.0 579.7 L1016.7 580.1 L1017.3 580.1 L1018.0 579.8 L1018.6 579.8 L1019.3 579.6 L1020.0 579.8 L1020.6 580.1 L1021.3 579.9 L1022.0 580.0 L1022.6 580.6 L1023.3 580.8 L1024.0 580.7 L1024.6 580.7 L1025.3 580.6 L1025.9 580.6 L1026.6 580.6 L1027.3 580.7 L1027.9 581.3 L1028.6 580.9 L1029.3 580.4 L1029.9 580.4 L1030.6 580.6 L1031.2 580.5 L1031.9 581.1 L1032.6 581.8 L1033.2 581.4 L1033.9 581.6 L1034.6 581.0 L1035.2 581.4 L1035.9 582.3 L1036.6 582.2 L1037.2 581.0 L1037.9 581.1 L1038.5 581.6 L1039.2 581.6 L1039.9 581.1 L1040.5 580.7 L1041.2 580.7 L1041.9 580.1 L1042.5 580.0 L1043.2 580.3 L1043.8 580.2 L1044.5 579.7 L1045.2 579.7 L1045.8 579.6 L1046.5 580.5 L1047.2 580.6 L1047.8 580.3 L1048.5 580.5 L1049.2 580.1 L1049.8 580.0 L1050.5 579.8 L1051.1 580.2 L1051.8 579.2 L1052.5 579.2 L1053.1 579.8 L1053.8 580.1 L1054.5 579.1 L1055.1 579.8 L1055.8 579.7 L1056.4 579.6 L1057.1 580.0 L1057.8 580.7 L1058.4 580.6 L1059.1 580.4 L1059.8 580.0 L1060.4 579.9 L1061.1 580.2 L1061.8 580.0 L1062.4 580.0 L1063.1 580.2 L1063.7 580.4 L1064.4 580.6 L1065.1 580.4 L1065.7 581.0 L1066.4 581.2 L1067.1 581.1 L1067.7 581.7 L1068.4 581.6" stroke="#ef1f2d"/>
<path d="M776.6 582.8 L777.3 557.3 L777.9 536.8 L778.6 520.8 L779.3 508.5 L779.9 498.6 L780.6 491.2 L781.2 483.5 L781.9 478.0 L782.6 473.2 L783.2 470.0 L783.9 466.7 L784.6 464.6 L785.2 461.4 L785.9 458.6 L786.5 457.5 L787.2 455.4 L787.9 453.2 L788.5 452.4 L789.2 451.4 L789.9 449.9 L790.5 448.4 L791.2 447.4 L791.9 445.7 L792.5 444.3 L793.2 442.8 L793.8 441.6 L794.5 440.1 L795.2 439.0 L795.8 439.1 L796.5 438.6 L797.2 438.2 L797.8 437.6 L798.5 436.6 L799.1 435.7 L799.8 434.7 L800.5 434.8 L801.1 434.5 L801.8 433.5 L802.5 432.8 L803.1 432.3 L803.8 431.6 L804.5 431.4 L805.1 430.4 L805.8 429.8 L806.4 429.5 L807.1 429.4 L807.8 429.0 L808.4 429.7 L809.1 429.3 L809.8 428.4 L810.4 428.5 L811.1 427.6 L811.7 427.1 L812.4 427.3 L813.1 426.8 L813.7 426.4 L814.4 425.8 L815.1 425.3 L815.7 425.2 L816.4 425.4 L817.1 425.1 L817.7 424.8 L818.4 424.3 L819.0 424.0 L819.7 424.3 L820.4 424.6 L821.0 424.4 L821.7 424.3 L822.4 424.4 L823.0 424.0 L823.7 423.8 L824.3 423.4 L825.0 422.9 L825.7 423.0 L826.3 421.9 L827.0 422.3 L827.7 421.8 L828.3 422.0 L829.0 421.6 L829.7 422.8 L830.3 422.8 L831.0 422.4 L831.6 421.9 L832.3 420.8 L833.0 421.0 L833.6 420.7 L834.3 420.7 L835.0 420.6 L835.6 420.7 L836.3 421.0 L836.9 420.8 L837.6 421.4 L838.3 420.7 L838.9 421.3 L839.6 421.0 L840.3 420.0 L840.9 420.4 L841.6 420.4 L842.3 420.0 L842.9 420.1 L843.6 420.6 L844.2 420.3 L844.9 420.0 L845.6 419.7 L846.2 420.1 L846.9 419.3 L847.6 418.8 L848.2 419.1 L848.9 419.2 L849.5 419.5 L850.2 418.8 L850.9 419.3 L851.5 419.0 L852.2 419.2 L852.9 419.5 L853.5 418.9 L854.2 418.3 L854.9 418.5 L855.5 418.8 L856.2 418.4 L856.8 418.4 L857.5 418.3 L858.2 417.6 L858.8 417.4 L859.5 417.9 L860.2 417.0 L860.8 417.4 L861.5 417.2 L862.1 417.8 L862.8 417.8 L863.5 418.5 L864.1 417.4 L864.8 416.9 L865.5 417.6 L866.1 418.2 L866.8 418.6 L867.5 417.6 L868.1 417.6 L868.8 417.5 L869.4 417.5 L870.1 417.4 L870.8 417.8 L871.4 417.5 L872.1 417.9 L872.8 417.6 L873.4 417.2 L874.1 416.9 L874.7 417.0 L875.4 417.4 L876.1 417.1 L876.7 417.2 L877.4 416.4 L878.1 416.3 L878.7 416.6 L879.4 416.9 L880.1 417.2 L880.7 417.5 L881.4 417.4 L882.0 417.1 L882.7 416.8 L883.4 416.6 L884.0 415.8 L884.7 416.6 L885.4 416.7 L886.0 415.6 L886.7 416.9 L887.3 417.2 L888.0 417.0 L888.7 416.9 L889.3 416.8 L890.0 417.0 L890.7 416.8 L891.3 416.9 L892.0 416.6 L892.7 417.6 L893.3 417.7 L894.0 417.4 L894.6 417.7 L895.3 417.9 L896.0 417.3 L896.6 417.4 L897.3 417.0 L898.0 416.7 L898.6 416.6 L899.3 416.5 L899.9 416.7 L900.6 417.4 L901.3 417.2 L901.9 416.9 L902.6 417.1 L903.3 417.0 L903.9 416.6 L904.6 417.0 L905.3 416.6 L905.9 415.9 L906.6 416.4 L907.2 416.4 L907.9 416.6 L908.6 415.9 L909.2 416.0 L909.9 415.8 L910.6 416.3 L911.2 416.3 L911.9 416.3 L912.5 417.1 L913.2 416.1 L913.9 415.7 L914.5 416.6 L915.2 416.1 L915.9 416.1 L916.5 415.9 L917.2 415.7 L917.9 416.4 L918.5 416.3 L919.2 415.4 L919.8 415.8 L920.5 416.2 L921.2 416.6 L921.8 416.7 L922.5 416.1 L923.2 415.1 L923.8 415.1 L924.5 415.1 L925.1 414.3 L925.8 414.9 L926.5 415.4 L927.1 415.1 L927.8 415.0 L928.5 415.5 L929.1 415.9 L929.8 415.5 L930.5 415.3 L931.1 415.8 L931.8 415.7 L932.4 415.7 L933.1 415.3 L933.8 415.3 L934.4 415.3 L935.1 415.4 L935.8 414.9 L936.4 465.1 L937.1 488.7 L937.7 500.8 L938.4 509.4 L939.1 515.6 L939.7 520.5 L940.4 524.5 L941.1 529.1 L941.7 533.0 L942.4 536.4 L943.1 540.3 L943.7 542.9 L944.4 545.6 L945.0 547.7 L945.7 550.3 L946.4 552.9 L947.0 554.3 L947.7 555.6 L948.4 557.2 L949.0 558.1 L949.7 559.6 L950.3 561.1 L951.0 561.9 L951.7 563.6 L952.3 564.6 L953.0 565.2 L953.7 565.5 L954.3 566.4 L955.0 567.0 L955.7 568.0 L956.3 568.4 L957.0 568.2 L957.6 569.4 L958.3 568.9 L959.0 570.1 L959.6 570.7 L960.3 571.1 L961.0 571.1 L961.6 572.3 L962.3 573.4 L962.9 573.1 L963.6 572.9 L964.3 573.0 L964.9 572.2 L965.6 572.9 L966.3 573.4 L966.9 573.5 L967.6 573.8 L968.3 573.6 L968.9 574.7 L969.6 575.1 L970.2 576.7 L970.9 575.9 L971.6 576.0 L972.2 575.5 L972.9 574.8 L973.6 575.3 L974.2 575.7 L974.9 576.2 L975.5 576.6 L976.2 576.8 L976.9 576.4 L977.5 576.5 L978.2 576.5 L978.9 576.7 L979.5 576.4 L980.2 576.4 L980.9 576.7 L981.5 576.6 L982.2 576.9 L982.8 577.5 L983.5 576.8 L984.2 576.8 L984.8 577.4 L985.5 577.0 L986.2 577.0 L986.8 577.9 L987.5 577.1 L988.1 577.2 L988.8 577.1 L989.5 577.3 L990.1 577.6 L990.8 578.4 L991.5 577.8 L992.1 577.9 L992.8 578.1 L993.5 578.0 L994.1 578.1 L994.8 577.9 L995.4 578.3 L996.1 578.4 L996.8 579.4 L997.4 579.3 L998.1 578.8 L998.8 578.2 L999.4 578.6 L1000.1 578.8 L1000.7 578.2 L1001.4 578.7 L1002.1 578.6 L1002.7 578.1 L1003.4 578.6 L1004.1 578.4 L1004.7 579.1 L1005.4 579.2 L1006.0 579.4 L1006.7 579.5 L1007.4 579.1 L1008.0 578.4 L1008.7 579.3 L1009.4 579.8 L1010.0 579.7 L1010.7 580.3 L1011.4 580.1 L1012.0 579.9 L1012.7 580.2 L1013.3 580.0 L1014.0 580.9 L1014.7 580.4 L1015.3 581.1 L1016.0 581.2 L1016.7 581.2 L1017.3 581.2 L1018.0 580.7 L1018.6 580.7 L1019.3 580.9 L1020.0 580.7 L1020.6 580.1 L1021.3 580.4 L1022.0 580.5 L1022.6 580.1 L1023.3 580.4 L1024.0 581.2 L1024.6 580.0 L1025.3 579.5 L1025.9 581.0 L1026.6 581.0 L1027.3 580.9 L1027.9 580.5 L1028.6 580.4 L1029.3 580.8 L1029.9 581.4 L1030.6 581.2 L1031.2 580.7 L1031.9 581.3 L1032.6 581.6 L1033.2 581.4 L1033.9 582.0 L1034.6 581.7 L1035.2 581.6 L1035.9 581.1 L1036.6 581.3 L1037.2 581.5 L1037.9 581.4 L1038.5 581.2 L1039.2 581.3 L1039.9 581.1 L1040.5 580.6 L1041.2 580.2 L1041.9 579.6 L1042.5 580.4 L1043.2 580.7 L1043.8 581.7 L1044.5 580.5 L1045.2 580.8 L1045.8 580.8 L1046.5 580.5 L1047.2 581.1 L1047.8 580.7 L1048.5 580.7 L1049.2 581.4 L1049.8 580.9 L1050.5 580.3 L1051.1 581.2 L1051.8 580.6 L1052.5 580.5 L1053.1 580.3 L1053.8 580.2 L1054.5 579.8 L1055.1 580.2 L1055.8 580.0 L1056.4 580.5 L1057.1 580.2 L1057.8 580.8 L1058.4 580.8 L1059.1 580.0 L1059.8 580.1 L1060.4 580.5 L1061.1 581.1 L1061.8 581.4 L1062.4 581.1 L1063.1 580.6 L1063.7 580.6 L1064.4 580.5 L1065.1 580.8 L1065.7 580.3 L1066.4 580.8 L1067.1 581.2 L1067.7 580.8 L1068.4 581.0" stroke="#b437d4"/>
<path d="M776.6 581.8 L777.3 568.1 L777.9 557.1 L778.6 548.1 L779.3 541.2 L779.9 536.3 L780.6 531.5 L781.2 527.8 L781.9 525.2 L782.6 522.2 L783.2 520.2 L783.9 518.4 L784.6 516.4 L785.2 514.5 L785.9 513.8 L786.5 512.5 L787.2 511.9 L787.9 509.9 L788.5 509.5 L789.2 508.3 L789.9 508.1 L790.5 507.1 L791.2 505.6 L791.9 506.6 L792.5 506.0 L793.2 505.1 L793.8 504.5 L794.5 504.3 L795.2 502.8 L795.8 502.6 L796.5 503.0 L797.2 502.1 L797.8 502.5 L798.5 501.3 L799.1 501.3 L799.8 500.8 L800.5 499.9 L801.1 499.8 L801.8 500.2 L802.5 500.5 L803.1 499.4 L803.8 498.8 L804.5 499.0 L805.1 498.4 L805.8 498.0 L806.4 497.7 L807.1 498.7 L807.8 498.4 L808.4 497.6 L809.1 497.2 L809.8 496.8 L810.4 497.9 L811.1 497.4 L811.7 497.0 L812.4 495.7 L813.1 496.5 L813.7 496.6 L814.4 496.5 L815.1 496.0 L815.7 496.3 L816.4 495.7 L817.1 496.1 L817.7 495.9 L818.4 496.1 L819.0 495.9 L819.7 496.1 L820.4 496.6 L821.0 495.7 L821.7 495.4 L822.4 495.6 L823.0 495.4 L823.7 494.9 L824.3 495.4 L825.0 495.3 L825.7 494.9 L826.3 494.7 L827.0 494.9 L827.7 495.7 L828.3 494.8 L829.0 494.6 L829.7 494.5 L830.3 494.6 L831.0 494.4 L831.6 494.5 L832.3 494.8 L833.0 494.9 L833.6 494.8 L834.3 494.7 L835.0 494.9 L835.6 494.2 L836.3 494.6 L836.9 493.9 L837.6 494.2 L838.3 493.8 L838.9 493.0 L839.6 493.0 L840.3 493.4 L840.9 493.3 L841.6 493.1 L842.3 493.8 L842.9 493.7 L843.6 493.3 L844.2 493.3 L844.9 493.0 L845.6 492.5 L846.2 492.2 L846.9 491.9 L847.6 491.9 L848.2 492.2 L848.9 492.2 L849.5 492.3 L850.2 492.4 L850.9 492.3 L851.5 493.0 L852.2 492.7 L852.9 492.4 L853.5 492.6 L854.2 492.3 L854.9 491.9 L855.5 491.9 L856.2 490.9 L856.8 492.4 L857.5 492.2 L858.2 492.8 L858.8 491.9 L859.5 490.6 L860.2 492.1 L860.8 491.8 L861.5 491.5 L862.1 491.7 L862.8 491.4 L863.5 492.4 L864.1 491.7 L864.8 491.5 L865.5 491.5 L866.1 491.8 L866.8 491.4 L867.5 491.7 L868.1 491.5 L868.8 491.8 L869.4 492.7 L870.1 492.3 L870.8 491.9 L871.4 491.5 L872.1 491.9 L872.8 491.8 L873.4 491.5 L874.1 491.5 L874.7 491.1 L875.4 490.5 L876.1 491.4 L876.7 492.4 L877.4 491.8 L878.1 491.1 L878.7 491.0 L879.4 491.0 L880.1 491.6 L880.7 492.0 L881.4 491.5 L882.0 492.1 L882.7 492.7 L883.4 492.8 L884.0 491.4 L884.7 490.7 L885.4 491.5 L886.0 491.9 L886.7 491.8 L887.3 492.1 L888.0 491.4 L888.7 491.6 L889.3 492.1 L890.0 491.4 L890.7 491.8 L891.3 491.6 L892.0 491.6 L892.7 491.8 L893.3 491.6 L894.0 491.9 L894.6 492.5 L895.3 493.1 L896.0 493.0 L896.6 492.7 L897.3 492.2 L898.0 491.8 L898.6 491.4 L899.3 491.3 L899.9 491.6 L900.6 491.7 L901.3 492.4 L901.9 491.9 L902.6 491.3 L903.3 491.0 L903.9 491.0 L904.6 491.0 L905.3 490.5 L905.9 490.6 L906.6 490.4 L907.2 490.2 L907.9 490.3 L908.6 489.9 L909.2 490.4 L909.9 490.6 L910.6 490.9 L911.2 491.1 L911.9 490.2 L912.5 489.5 L913.2 489.9 L913.9 489.8 L914.5 489.5 L915.2 489.5 L915.9 489.3 L916.5 490.2 L917.2 490.5 L917.9 490.2 L918.5 489.6 L919.2 489.8 L919.8 490.4 L920.5 490.5 L921.2 490.7 L921.8 490.9 L922.5 490.0 L923.2 490.4 L923.8 490.4 L924.5 489.4 L925.1 489.3 L925.8 489.6 L926.5 490.2 L927.1 490.1 L927.8 489.5 L928.5 489.6 L929.1 489.4 L929.8 489.8 L930.5 489.9 L931.1 490.2 L931.8 490.2 L932.4 489.8 L933.1 490.8 L933.8 490.8 L934.4 490.6 L935.1 490.9 L935.8 491.0 L936.4 497.1 L937.1 502.6 L937.7 508.5 L938.4 514.1 L939.1 520.0 L939.7 523.6 L940.4 528.0 L941.1 532.1 L941.7 536.2 L942.4 539.4 L943.1 542.9 L943.7 545.4 L944.4 547.6 L945.0 550.0 L945.7 552.1 L946.4 554.5 L947.0 555.7 L947.7 557.8 L948.4 560.2 L949.0 561.4 L949.7 562.9 L950.3 564.3 L951.0 565.3 L951.7 566.0 L952.3 567.3 L953.0 568.0 L953.7 568.1 L954.3 568.7 L955.0 569.7 L955.7 570.4 L956.3 571.1 L957.0 571.7 L957.6 571.9 L958.3 572.5 L959.0 574.1 L959.6 574.1 L960.3 574.6 L961.0 574.4 L961.6 574.9 L962.3 575.0 L962.9 574.2 L963.6 575.3 L964.3 576.0 L964.9 576.7 L965.6 577.5 L966.3 577.9 L966.9 577.2 L967.6 577.3 L968.3 577.9 L968.9 578.2 L969.6 577.5 L970.2 577.7 L970.9 577.7 L971.6 577.4 L972.2 576.8 L972.9 576.3 L973.6 576.4 L974.2 576.8 L974.9 577.1 L975.5 576.6 L976.2 576.5 L976.9 577.3 L977.5 577.4 L978.2 577.6 L978.9 577.8 L979.5 578.2 L980.2 578.8 L980.9 578.9 L981.5 579.4 L982.2 578.5 L982.8 578.3 L983.5 579.0 L984.2 578.3 L984.8 578.1 L985.5 579.2 L986.2 578.3 L986.8 578.2 L987.5 577.7 L988.1 578.8 L988.8 578.7 L989.5 578.8 L990.1 578.9 L990.8 579.0 L991.5 578.8 L992.1 579.7 L992.8 580.2 L993.5 580.6 L994.1 580.5 L994.8 580.5 L995.4 580.1 L996.1 579.9 L996.8 580.0 L997.4 580.3 L998.1 580.4 L998.8 579.9 L999.4 579.7 L1000.1 579.9 L1000.7 580.2 L1001.4 579.6 L1002.1 580.2 L1002.7 580.1 L1003.4 579.8 L1004.1 580.2 L1004.7 580.0 L1005.4 580.8 L1006.0 580.3 L1006.7 580.4 L1007.4 581.2 L1008.0 580.8 L1008.7 581.2 L1009.4 580.5 L1010.0 580.9 L1010.7 581.0 L1011.4 580.8 L1012.0 581.0 L1012.7 580.8 L1013.3 581.1 L1014.0 580.7 L1014.7 580.8 L1015.3 580.8 L1016.0 582.0 L1016.7 581.1 L1017.3 581.0 L1018.0 581.7 L1018.6 581.3 L1019.3 580.9 L1020.0 580.4 L1020.6 581.0 L1021.3 580.3 L1022.0 580.5 L1022.6 579.6 L1023.3 580.1 L1024.0 580.0 L1024.6 580.5 L1025.3 581.0 L1025.9 580.4 L1026.6 580.1 L1027.3 579.6 L1027.9 579.6 L1028.6 580.2 L1029.3 581.1 L1029.9 581.1 L1030.6 581.2 L1031.2 581.2 L1031.9 580.7 L1032.6 580.4 L1033.2 580.5 L1033.9 580.4 L1034.6 580.5 L1035.2 580.4 L1035.9 580.0 L1036.6 579.8 L1037.2 580.3 L1037.9 581.0 L1038.5 580.1 L1039.2 580.2 L1039.9 579.8 L1040.5 580.8 L1041.2 580.8 L1041.9 580.6 L1042.5 581.2 L1043.2 581.1 L1043.8 580.6 L1044.5 580.1 L1045.2 579.6 L1045.8 580.4 L1046.5 581.1 L1047.2 580.7 L1047.8 580.3 L1048.5 580.4 L1049.2 581.1 L1049.8 580.6 L1050.5 580.4 L1051.1 580.3 L1051.8 580.8 L1052.5 580.7 L1053.1 580.5 L1053.8 580.9 L1054.5 581.8 L1055.1 581.4 L1055.8 581.1 L1056.4 581.1 L1057.1 580.8 L1057.8 581.2 L1058.4 581.3 L1059.1 581.5 L1059.8 581.2 L1060.4 580.6 L1061.1 581.0 L1061.8 580.3 L1062.4 580.2 L1063.1 580.4 L1063.7 580.6 L1064.4 580.2 L1065.1 580.9 L1065.7 581.2 L1066.4 581.9 L1067.1 581.6 L1067.7 581.1 L1068.4 581.1" stroke="#2f80cc"/>
<path d="M776.6 581.1 L777.3 573.7 L777.9 567.7 L778.6 563.6 L779.3 559.3 L779.9 556.5 L780.6 554.5 L781.2 552.6 L781.9 551.1 L782.6 549.2 L783.2 547.7 L783.9 547.3 L784.6 546.0 L785.2 545.0 L785.9 544.7 L786.5 544.6 L787.2 544.1 L787.9 543.6 L788.5 542.8 L789.2 542.4 L789.9 542.6 L790.5 541.8 L791.2 541.8 L791.9 540.8 L792.5 540.8 L793.2 540.6 L793.8 540.3 L794.5 540.0 L795.2 539.1 L795.8 538.6 L796.5 538.2 L797.2 538.1 L797.8 538.5 L798.5 538.3 L799.1 538.1 L799.8 538.1 L800.5 537.5 L801.1 537.5 L801.8 537.4 L802.5 537.4 L803.1 537.6 L803.8 536.8 L804.5 536.0 L805.1 535.8 L805.8 536.1 L806.4 536.8 L807.1 536.1 L807.8 535.3 L808.4 535.1 L809.1 534.7 L809.8 534.2 L810.4 533.9 L811.1 534.3 L811.7 533.9 L812.4 533.8 L813.1 534.4 L813.7 534.4 L814.4 534.6 L815.1 534.3 L815.7 533.8 L816.4 534.1 L817.1 534.5 L817.7 533.6 L818.4 533.3 L819.0 532.7 L819.7 533.3 L820.4 532.8 L821.0 532.1 L821.7 531.7 L822.4 532.2 L823.0 532.3 L823.7 532.5 L824.3 532.2 L825.0 531.9 L825.7 532.1 L826.3 532.7 L827.0 532.3 L827.7 532.5 L828.3 532.2 L829.0 532.1 L829.7 531.6 L830.3 531.4 L831.0 531.9 L831.6 531.9 L832.3 531.4 L833.0 531.9 L833.6 531.8 L834.3 531.5 L835.0 531.3 L835.6 531.5 L836.3 532.2 L836.9 532.6 L837.6 532.3 L838.3 532.1 L838.9 531.2 L839.6 531.9 L840.3 531.6 L840.9 531.5 L841.6 532.3 L842.3 532.5 L842.9 532.3 L843.6 532.4 L844.2 532.4 L844.9 532.1 L845.6 532.4 L846.2 532.2 L846.9 532.4 L847.6 532.5 L848.2 532.2 L848.9 532.4 L849.5 532.2 L850.2 531.6 L850.9 531.8 L851.5 532.0 L852.2 531.8 L852.9 532.1 L853.5 531.7 L854.2 532.3 L854.9 532.0 L855.5 532.2 L856.2 532.5 L856.8 531.7 L857.5 532.1 L858.2 531.5 L858.8 531.5 L859.5 531.2 L860.2 531.8 L860.8 531.4 L861.5 531.1 L862.1 531.4 L862.8 531.6 L863.5 530.8 L864.1 531.1 L864.8 531.5 L865.5 531.7 L866.1 531.5 L866.8 531.4 L867.5 531.4 L868.1 530.8 L868.8 531.1 L869.4 531.1 L870.1 530.6 L870.8 531.2 L871.4 530.8 L872.1 530.3 L872.8 531.1 L873.4 531.4 L874.1 531.6 L874.7 532.0 L875.4 531.4 L876.1 531.8 L876.7 531.2 L877.4 530.6 L878.1 531.2 L878.7 531.1 L879.4 531.6 L880.1 530.9 L880.7 531.0 L881.4 530.9 L882.0 530.8 L882.7 530.5 L883.4 530.6 L884.0 530.5 L884.7 530.7 L885.4 530.6 L886.0 530.9 L886.7 530.7 L887.3 531.2 L888.0 531.1 L888.7 530.1 L889.3 530.2 L890.0 530.7 L890.7 530.5 L891.3 530.8 L892.0 531.2 L892.7 531.2 L893.3 530.6 L894.0 530.4 L894.6 530.5 L895.3 530.8 L896.0 531.1 L896.6 530.4 L897.3 530.4 L898.0 530.8 L898.6 531.5 L899.3 531.6 L899.9 530.4 L900.6 530.9 L901.3 530.9 L901.9 530.8 L902.6 530.8 L903.3 530.9 L903.9 531.4 L904.6 531.5 L905.3 530.7 L905.9 531.1 L906.6 530.7 L907.2 531.4 L907.9 531.3 L908.6 531.1 L909.2 530.7 L909.9 531.3 L910.6 531.0 L911.2 530.9 L911.9 531.2 L912.5 531.0 L913.2 531.4 L913.9 531.6 L914.5 531.4 L915.2 532.2 L915.9 531.8 L916.5 531.9 L917.2 532.1 L917.9 531.9 L918.5 531.3 L919.2 531.4 L919.8 530.8 L920.5 531.3 L921.2 531.7 L921.8 530.9 L922.5 530.8 L923.2 530.5 L923.8 531.0 L924.5 530.7 L925.1 530.7 L925.8 530.5 L926.5 530.6 L927.1 530.3 L927.8 530.7 L928.5 531.0 L929.1 531.4 L929.8 530.7 L930.5 530.9 L931.1 531.1 L931.8 531.2 L932.4 531.1 L933.1 531.3 L933.8 531.0 L934.4 531.0 L935.1 530.9 L935.8 531.0 L936.4 538.2 L937.1 544.5 L937.7 549.4 L938.4 553.4 L939.1 556.6 L939.7 560.2 L940.4 562.5 L941.1 564.5 L941.7 565.6 L942.4 567.4 L943.1 568.6 L943.7 569.5 L944.4 570.3 L945.0 570.6 L945.7 571.4 L946.4 571.7 L947.0 572.8 L947.7 573.8 L948.4 573.5 L949.0 573.7 L949.7 574.0 L950.3 574.4 L951.0 574.6 L951.7 575.4 L952.3 575.3 L953.0 575.8 L953.7 575.7 L954.3 576.1 L955.0 577.1 L955.7 577.5 L956.3 577.1 L957.0 577.3 L957.6 577.6 L958.3 577.6 L959.0 578.0 L959.6 578.3 L960.3 578.3 L961.0 578.4 L961.6 578.0 L962.3 578.3 L962.9 578.0 L963.6 577.9 L964.3 577.9 L964.9 578.1 L965.6 578.7 L966.3 579.0 L966.9 579.4 L967.6 579.9 L968.3 580.0 L968.9 580.3 L969.6 579.7 L970.2 579.8 L970.9 580.2 L971.6 581.0 L972.2 580.9 L972.9 580.9 L973.6 581.2 L974.2 581.5 L974.9 582.0 L975.5 581.4 L976.2 581.2 L976.9 580.3 L977.5 580.6 L978.2 580.9 L978.9 580.5 L979.5 580.7 L980.2 580.9 L980.9 581.1 L981.5 581.4 L982.2 580.8 L982.8 580.7 L983.5 580.3 L984.2 580.8 L984.8 581.0 L985.5 581.4 L986.2 581.0 L986.8 581.6 L987.5 581.3 L988.1 580.9 L988.8 580.6 L989.5 581.1 L990.1 580.8 L990.8 581.2 L991.5 581.5 L992.1 581.8 L992.8 581.1 L993.5 580.6 L994.1 581.0 L994.8 581.3 L995.4 581.3 L996.1 580.3 L996.8 580.3 L997.4 580.7 L998.1 581.4 L998.8 581.5 L999.4 580.8 L1000.1 580.2 L1000.7 580.6 L1001.4 580.9 L1002.1 581.1 L1002.7 581.6 L1003.4 581.0 L1004.1 581.3 L1004.7 580.7 L1005.4 581.4 L1006.0 581.6 L1006.7 581.2 L1007.4 581.3 L1008.0 580.8 L1008.7 580.8 L1009.4 581.2 L1010.0 580.9 L1010.7 580.6 L1011.4 581.4 L1012.0 580.5 L1012.7 580.5 L1013.3 580.4 L1014.0 581.3 L1014.7 581.4 L1015.3 581.4 L1016.0 580.9 L1016.7 581.4 L1017.3 581.6 L1018.0 582.1 L1018.6 581.8 L1019.3 581.4 L1020.0 581.9 L1020.6 581.9 L1021.3 581.5 L1022.0 580.9 L1022.6 580.8 L1023.3 581.2 L1024.0 581.7 L1024.6 581.9 L1025.3 582.0 L1025.9 581.8 L1026.6 581.7 L1027.3 581.1 L1027.9 581.2 L1028.6 581.8 L1029.3 581.2 L1029.9 581.1 L1030.6 581.3 L1031.2 581.8 L1031.9 582.4 L1032.6 582.6 L1033.2 582.0 L1033.9 582.2 L1034.6 582.6 L1035.2 582.2 L1035.9 582.0 L1036.6 581.8 L1037.2 581.6 L1037.9 581.3 L1038.5 581.8 L1039.2 581.5 L1039.9 582.0 L1040.5 581.8 L1041.2 581.8 L1041.9 581.8 L1042.5 581.5 L1043.2 581.7 L1043.8 581.4 L1044.5 581.3 L1045.2 581.4 L1045.8 581.8 L1046.5 582.0 L1047.2 582.1 L1047.8 582.0 L1048.5 581.9 L1049.2 580.8 L1049.8 580.9 L1050.5 580.9 L1051.1 581.5 L1051.8 581.8 L1052.5 581.8 L1053.1 581.6 L1053.8 581.9 L1054.5 581.1 L1055.1 581.4 L1055.8 581.0 L1056.4 581.9 L1057.1 581.7 L1057.8 581.4 L1058.4 581.3 L1059.1 581.0 L1059.8 581.0 L1060.4 581.0 L1061.1 581.7 L1061.8 581.7 L1062.4 582.2 L1063.1 581.5 L1063.7 581.2 L1064.4 581.2 L1065.1 581.4 L1065.7 581.4 L1066.4 580.6 L1067.1 580.1 L1067.7 580.5 L1068.4 580.2" stroke="#7fba3c"/>
</g>
<rect x="756.9" y="360.4" width="316.9" height="235.8" fill="none" stroke="#1a1a1a" stroke-width="1.2"/>
<line x1="756.9" y1="575.0" x2="761.3" y2="575.0" stroke="#1a1a1a" stroke-width="1"/>
<text x="753.0" y="580.1" font-size="15" fill="#111" text-anchor="end" textLength="15.6" lengthAdjust="spacingAndGlyphs" >30</text>
<line x1="756.9" y1="532.0" x2="761.3" y2="532.0" stroke="#1a1a1a" stroke-width="1"/>
<text x="753.0" y="537.1" font-size="15" fill="#111" text-anchor="end" textLength="15.6" lengthAdjust="spacingAndGlyphs" >40</text>
<line x1="756.9" y1="553.5" x2="759.5" y2="553.5" stroke="#1a1a1a" stroke-width="1"/>
<line x1="756.9" y1="489.0" x2="761.3" y2="489.0" stroke="#1a1a1a" stroke-width="1"/>
<text x="753.0" y="494.1" font-size="15" fill="#111" text-anchor="end" textLength="15.6" lengthAdjust="spacingAndGlyphs" >50</text>
<line x1="756.9" y1="510.5" x2="759.5" y2="510.5" stroke="#1a1a1a" stroke-width="1"/>
<line x1="756.9" y1="446.0" x2="761.3" y2="446.0" stroke="#1a1a1a" stroke-width="1"/>
<text x="753.0" y="451.1" font-size="15" fill="#111" text-anchor="end" textLength="15.6" lengthAdjust="spacingAndGlyphs" >60</text>
<line x1="756.9" y1="467.5" x2="759.5" y2="467.5" stroke="#1a1a1a" stroke-width="1"/>
<line x1="756.9" y1="403.0" x2="761.3" y2="403.0" stroke="#1a1a1a" stroke-width="1"/>
<text x="753.0" y="408.1" font-size="15" fill="#111" text-anchor="end" textLength="15.6" lengthAdjust="spacingAndGlyphs" >70</text>
<line x1="756.9" y1="424.5" x2="759.5" y2="424.5" stroke="#1a1a1a" stroke-width="1"/>
<line x1="756.9" y1="360.0" x2="761.3" y2="360.0" stroke="#1a1a1a" stroke-width="1"/>
<text x="753.0" y="365.1" font-size="15" fill="#111" text-anchor="end" textLength="15.6" lengthAdjust="spacingAndGlyphs" >80</text>
<line x1="756.9" y1="381.5" x2="759.5" y2="381.5" stroke="#1a1a1a" stroke-width="1"/>
<line x1="776.6" y1="596.2" x2="776.6" y2="591.8" stroke="#1a1a1a" stroke-width="1"/>
<text x="776.6" y="613.8" font-size="15" fill="#111" text-anchor="middle" >0</text>
<line x1="796.5" y1="596.2" x2="796.5" y2="593.6" stroke="#1a1a1a" stroke-width="1"/>
<line x1="816.4" y1="596.2" x2="816.4" y2="591.8" stroke="#1a1a1a" stroke-width="1"/>
<text x="816.4" y="613.8" font-size="15" fill="#111" text-anchor="middle" >30</text>
<line x1="836.3" y1="596.2" x2="836.3" y2="593.6" stroke="#1a1a1a" stroke-width="1"/>
<line x1="856.2" y1="596.2" x2="856.2" y2="591.8" stroke="#1a1a1a" stroke-width="1"/>
<text x="856.2" y="613.8" font-size="15" fill="#111" text-anchor="middle" >60</text>
<line x1="876.1" y1="596.2" x2="876.1" y2="593.6" stroke="#1a1a1a" stroke-width="1"/>
<line x1="896.0" y1="596.2" x2="896.0" y2="591.8" stroke="#1a1a1a" stroke-width="1"/>
<text x="896.0" y="613.8" font-size="15" fill="#111" text-anchor="middle" >90</text>
<line x1="915.9" y1="596.2" x2="915.9" y2="593.6" stroke="#1a1a1a" stroke-width="1"/>
<line x1="935.8" y1="596.2" x2="935.8" y2="591.8" stroke="#1a1a1a" stroke-width="1"/>
<text x="935.8" y="613.8" font-size="15" fill="#111" text-anchor="middle" >120</text>
<line x1="955.7" y1="596.2" x2="955.7" y2="593.6" stroke="#1a1a1a" stroke-width="1"/>
<line x1="975.5" y1="596.2" x2="975.5" y2="591.8" stroke="#1a1a1a" stroke-width="1"/>
<text x="975.5" y="613.8" font-size="15" fill="#111" text-anchor="middle" >150</text>
<line x1="995.4" y1="596.2" x2="995.4" y2="593.6" stroke="#1a1a1a" stroke-width="1"/>
<line x1="1015.3" y1="596.2" x2="1015.3" y2="591.8" stroke="#1a1a1a" stroke-width="1"/>
<text x="1015.3" y="613.8" font-size="15" fill="#111" text-anchor="middle" >180</text>
<line x1="1035.2" y1="596.2" x2="1035.2" y2="593.6" stroke="#1a1a1a" stroke-width="1"/>
<line x1="1055.1" y1="596.2" x2="1055.1" y2="591.8" stroke="#1a1a1a" stroke-width="1"/>
<text x="1055.1" y="613.8" font-size="15" fill="#111" text-anchor="middle" >210</text>
<text x="888.2" y="631.4" font-size="15.5" fill="#111" textLength="55.3" lengthAdjust="spacingAndGlyphs" >Time (s)</text>
<text x="0" y="0" font-size="15.5" fill="#111" text-anchor="middle" transform="translate(732.8 478.6) rotate(-90)" textLength="129" lengthAdjust="spacingAndGlyphs">Temperature (°C)</text>
<line x1="959.8" y1="428.8" x2="996.3" y2="428.8" stroke="#ef1f2d" stroke-width="1.3"/>
<text x="1001.0" y="433.7" font-size="16.5" fill="#111" textLength="59.0" lengthAdjust="spacingAndGlyphs" >HMPVS</text>
<line x1="959.8" y1="448.8" x2="996.3" y2="448.8" stroke="#b437d4" stroke-width="1.3"/>
<text x="1001.0" y="454.3" font-size="16.5" fill="#111" textLength="30.0" lengthAdjust="spacingAndGlyphs" >SVS</text>
<line x1="959.8" y1="469.9" x2="996.3" y2="469.9" stroke="#2f80cc" stroke-width="1.3"/>
<text x="1001.0" y="475.4" font-size="16.5" fill="#111" textLength="47.0" lengthAdjust="spacingAndGlyphs" >HMPV</text>
<line x1="959.8" y1="490.8" x2="996.3" y2="490.8" stroke="#7fba3c" stroke-width="1.3"/>
<text x="1001.0" y="495.6" font-size="16.5" fill="#111" textLength="20.0" lengthAdjust="spacingAndGlyphs" >SV</text>
<text x="728.0" y="351.0" font-size="21" fill="#000" textLength="8.4" lengthAdjust="spacingAndGlyphs" >f</text>

<!-- 07_g1.py -->
<defs>
<radialGradient id="wat1" gradientUnits="userSpaceOnUse" cx="99" cy="718" r="52"><stop offset="0" stop-color="#eef8fe"/><stop offset="0.35" stop-color="#a9dcf6"/><stop offset="0.75" stop-color="#55b9ec"/><stop offset="1" stop-color="#2ea8e8"/></radialGradient>
<radialGradient id="wat2" gradientUnits="userSpaceOnUse" cx="101" cy="838" r="56"><stop offset="0" stop-color="#eef8fe"/><stop offset="0.35" stop-color="#a9dcf6"/><stop offset="0.75" stop-color="#55b9ec"/><stop offset="1" stop-color="#2ea8e8"/></radialGradient>
<radialGradient id="iceB" gradientUnits="userSpaceOnUse" cx="293" cy="836" r="76"><stop offset="0" stop-color="#eef2fa"/><stop offset="0.30" stop-color="#dde5f5"/><stop offset="0.62" stop-color="#b9c8ea"/><stop offset="0.85" stop-color="#a9bce5"/><stop offset="1" stop-color="#a9bce5"/></radialGradient>
<linearGradient id="melt" gradientUnits="userSpaceOnUse" x1="0" y1="846" x2="0" y2="897"><stop offset="0" stop-color="#b6c8e8"/><stop offset="0.25" stop-color="#8fbfea"/><stop offset="0.55" stop-color="#38a4ea"/><stop offset="0.72" stop-color="#2fa2ea"/><stop offset="0.86" stop-color="#9fd2f4"/><stop offset="1" stop-color="#ffffff"/></linearGradient>
<linearGradient id="subY" gradientUnits="userSpaceOnUse" x1="0" y1="881" x2="0" y2="906"><stop offset="0" stop-color="#f6b414"/><stop offset="0.35" stop-color="#f1bf3a"/><stop offset="0.75" stop-color="#d6d790"/><stop offset="1" stop-color="#c5e0b4"/></linearGradient>
<linearGradient id="lasT" gradientUnits="userSpaceOnUse" x1="0" y1="748" x2="0" y2="882"><stop offset="0" stop-color="#f02a38"/><stop offset="0.18" stop-color="#f4606a"/><stop offset="0.40" stop-color="#f8a0a8" stop-opacity="0.95"/><stop offset="0.68" stop-color="#fbd0d4" stop-opacity="0.85"/><stop offset="1" stop-color="#fdeced" stop-opacity="0.6"/></linearGradient>
</defs>
<rect x="39.4" y="728" width="118.6" height="32.6" fill="#c5e0b4"/>
<path d="M50.4 728 A48.6 49.6 0 0 1 147.6 728 Z" fill="url(#wat1)"/>
<path d="M88.9 720.6 H93.1 V741.6 L98.6 738.1 L91.0 752.6 L83.4 738.1 L88.9 741.6 H88.9 Z" fill="#fb0f18"/>
<path d="M105.5 720.6 H109.7 V741.6 L115.2 738.1 L107.6 752.6 L100.0 738.1 L105.5 741.6 H105.5 Z" fill="#fb0f18"/>
<path d="M73.0 700.0 Q56.0 697.0 51.7 687.9" fill="none" stroke="#f6b417" stroke-width="3.8"/><path d="M48.0 680.0 L59.3 688.5 L51.5 687.4 L47.4 694.1 Z" fill="#f6b417"/>
<path d="M124.0 700.0 Q141.0 697.0 145.7 687.8" fill="none" stroke="#f6b417" stroke-width="3.8"/><path d="M149.6 680.0 L149.8 694.1 L145.9 687.3 L138.1 688.2 Z" fill="#f6b417"/>
<text x="21.0" y="684.0" font-size="15" fill="#111" >Q</text><text x="32.2" y="687.0" font-size="9.5" fill="#111" >1</text>
<text x="61.6" y="749.0" font-size="15" fill="#111" >Q</text><text x="72.8" y="752.0" font-size="9.5" fill="#111" >2</text>
<text x="51.0" y="782.0" font-size="15" fill="#111" textLength="103.0" lengthAdjust="spacingAndGlyphs" >Smooth surface</text>
<clipPath id="w2c"><rect x="40" y="790" width="125" height="89"/></clipPath>
<circle cx="101" cy="846" r="52" fill="url(#wat2)" clip-path="url(#w2c)"/>
<path d="M36 914.4 V879 H46.0 V889.6 H55.8 V879 H65.4 V889.6 H75.2 V879 H85.6 V889.6 H95.4 V879 H106.0 V889.6 H115.8 V879 H126.0 V889.6 H135.8 V879 H146.4 V889.6 H156.2 V879 H165.6 V914.4 Z" fill="#c5e0b4"/>
<path d="M97.9 866.6 H102.1 V890.6 L107.3 887.1 L100.0 901.6 L92.7 887.1 L97.9 890.6 H97.9 Z" fill="#fb0f18"/>
<path d="M117.3 866.6 H121.5 V890.6 L126.7 887.1 L119.4 901.6 L112.1 887.1 L117.3 890.6 H117.3 Z" fill="#fb0f18"/>
<path d="M64.4 822.4 Q46.0 819.0 40.9 808.8" fill="none" stroke="#f6b417" stroke-width="3.8"/><path d="M37.0 801.0 L48.5 809.2 L40.6 808.3 L36.7 815.1 Z" fill="#f6b417"/>
<path d="M134.4 822.0 Q153.0 819.0 158.9 807.7" fill="none" stroke="#f6b417" stroke-width="3.8"/><path d="M163.0 800.0 L163.0 814.1 L159.2 807.2 L151.3 808.0 Z" fill="#f6b417"/>
<path d="M72.0 885.4 Q56.0 874.0 38.0 874.4" fill="none" stroke="#1b6dc6" stroke-width="4.0"/><path d="M30.0 874.6 L41.4 868.1 L37.5 874.4 L41.6 880.5 Z" fill="#1b6dc6"/>
<path d="M143.0 898.0 Q146.0 874.0 166.6 864.9" fill="none" stroke="#b40f17" stroke-width="4.0"/><path d="M174.0 861.6 L166.0 871.9 L167.2 864.6 L161.0 860.6 Z" fill="#b40f17"/>
<text x="15.0" y="809.6" font-size="15" fill="#111" >Q</text><text x="26.2" y="812.6" font-size="9.5" fill="#111" >1</text>
<text x="15.0" y="867.0" font-size="15" fill="#111" >Q</text><text x="26.2" y="870.0" font-size="9.5" fill="#111" >3</text>
<text x="75.0" y="909.0" font-size="15" fill="#111" >Q</text><text x="86.2" y="912.0" font-size="9.5" fill="#111" >2</text>
<text x="92.0" y="901.0" font-size="8" fill="#111" >*</text>
<text x="176.4" y="855.0" font-size="15" fill="#111" >Q</text><text x="187.4" y="858.0" font-size="9.5" fill="#111" textLength="10.6" lengthAdjust="spacingAndGlyphs" >ph</text>
<text x="41.6" y="930.4" font-size="15" fill="#111" textLength="123.4" lengthAdjust="spacingAndGlyphs" >Photothermal trap</text>
<text x="211.9" y="695.0" font-size="22" fill="#2aa9e6" textLength="174.0" lengthAdjust="spacingAndGlyphs" >Passive anti-icing</text>
<text x="296.3" y="742.6" font-size="21.5" fill="#111" textLength="41.7" lengthAdjust="spacingAndGlyphs" >Cold</text>
<clipPath id="iceclip"><rect x="200" y="750" width="190" height="146.3"/></clipPath>
<circle cx="293" cy="836.4" r="75.2" fill="url(#iceB)" clip-path="url(#iceclip)"/>
<path d="M193.7 931.3 V881.1 H203.7 V896.3 H213.6 V881.1 H224.2 V896.3 H234.1 V881.1 H244.7 V896.3 H254.6 V881.1 H265.2 V896.3 H275.1 V881.1 H285.7 V896.3 H295.6 V881.1 H306.2 V896.3 H316.1 V881.1 H326.8 V896.3 H336.7 V881.1 H347.3 V896.3 H357.2 V881.1 H368.4 V896.3 H378.3 V881.1 H389 V931.3 Z" fill="#c5e0b4"/>
<text x="278.7" y="844.4" font-size="24" fill="#111" textLength="29.0" lengthAdjust="spacingAndGlyphs" >Ice</text>
<text x="236.2" y="925.0" font-size="15" fill="#111" textLength="107.8" lengthAdjust="spacingAndGlyphs" >Locking Wenzel</text>
<g stroke="#2392f0" stroke-width="1.90" stroke-linecap="round" fill="none"><line x1="371.10" y1="733.80" x2="391.30" y2="733.80"/><line x1="385.04" y1="733.80" x2="388.76" y2="729.81"/><line x1="385.04" y1="733.80" x2="388.76" y2="737.79"/><line x1="379.99" y1="733.80" x2="383.43" y2="730.11"/><line x1="379.99" y1="733.80" x2="383.43" y2="737.49"/><line x1="371.10" y1="733.80" x2="385.38" y2="719.52"/><line x1="380.96" y1="723.94" x2="380.77" y2="718.49"/><line x1="380.96" y1="723.94" x2="386.41" y2="724.13"/><line x1="377.38" y1="727.52" x2="377.21" y2="722.47"/><line x1="377.38" y1="727.52" x2="382.43" y2="727.69"/><line x1="371.10" y1="733.80" x2="371.10" y2="713.60"/><line x1="371.10" y1="719.86" x2="367.11" y2="716.14"/><line x1="371.10" y1="719.86" x2="375.09" y2="716.14"/><line x1="371.10" y1="724.91" x2="367.41" y2="721.47"/><line x1="371.10" y1="724.91" x2="374.79" y2="721.47"/><line x1="371.10" y1="733.80" x2="356.82" y2="719.52"/><line x1="361.24" y1="723.94" x2="355.79" y2="724.13"/><line x1="361.24" y1="723.94" x2="361.43" y2="718.49"/><line x1="364.82" y1="727.52" x2="359.77" y2="727.69"/><line x1="364.82" y1="727.52" x2="364.99" y2="722.47"/><line x1="371.10" y1="733.80" x2="350.90" y2="733.80"/><line x1="357.16" y1="733.80" x2="353.44" y2="737.79"/><line x1="357.16" y1="733.80" x2="353.44" y2="729.81"/><line x1="362.21" y1="733.80" x2="358.77" y2="737.49"/><line x1="362.21" y1="733.80" x2="358.77" y2="730.11"/><line x1="371.10" y1="733.80" x2="356.82" y2="748.08"/><line x1="361.24" y1="743.66" x2="361.43" y2="749.11"/><line x1="361.24" y1="743.66" x2="355.79" y2="743.47"/><line x1="364.82" y1="740.08" x2="364.99" y2="745.13"/><line x1="364.82" y1="740.08" x2="359.77" y2="739.91"/><line x1="371.10" y1="733.80" x2="371.10" y2="754.00"/><line x1="371.10" y1="747.74" x2="375.09" y2="751.46"/><line x1="371.10" y1="747.74" x2="367.11" y2="751.46"/><line x1="371.10" y1="742.69" x2="374.79" y2="746.13"/><line x1="371.10" y1="742.69" x2="367.41" y2="746.13"/><line x1="371.10" y1="733.80" x2="385.38" y2="748.08"/><line x1="380.96" y1="743.66" x2="386.41" y2="743.47"/><line x1="380.96" y1="743.66" x2="380.77" y2="749.11"/><line x1="377.38" y1="740.08" x2="382.43" y2="739.91"/><line x1="377.38" y1="740.08" x2="377.21" y2="745.13"/></g><circle cx="371.10" cy="733.80" r="2.38" fill="#2392f0"/>
<text x="388.8" y="799.8" font-size="15" fill="#111" textLength="62.7" lengthAdjust="spacingAndGlyphs" >Activated</text>
<text x="382.2" y="818.7" font-size="15" fill="#111" textLength="75.9" lengthAdjust="spacingAndGlyphs" >By infrared</text>
<path d="M393.7 839.3 H427.8 V830.8 L445.6 847.4 L427.8 864.3 V855.2 H393.7 Z" fill="#fa4a4f"/>
<text x="483.4" y="696.5" font-size="22" fill="#ee1c25" textLength="148.6" lengthAdjust="spacingAndGlyphs" >Active de-icing</text>
<text x="542.3" y="739.6" font-size="20" fill="#111" textLength="123.0" lengthAdjust="spacingAndGlyphs" >Infrared laser</text>
<path d="M629.9 748.8 L646.8 881.3 L452 881.3 Z" fill="url(#lasT)"/>
<clipPath id="ballclip"><rect x="470" y="750" width="165" height="131.4"/></clipPath>
<circle cx="551.4" cy="831.9" r="75.2" fill="#b4c7e8" clip-path="url(#ballclip)"/>
<clipPath id="meltclip"><path d="M476 857.6 Q551.6 846 626.6 856.2 L640 856 L640 900 L460 900 L460 857 Z"/></clipPath>
<clipPath id="meltshape"><path d="M494.6 881.4 A75.2 75.2 0 0 1 476.2 831.9 A75.2 75.2 0 0 1 626.6 831.9 A75.2 75.2 0 0 1 608.2 881.4 V897 H494.6 Z"/></clipPath>
<g clip-path="url(#meltshape)"><rect x="470" y="840" width="170" height="60" fill="url(#melt)" clip-path="url(#meltclip)"/></g>
<path d="M451.2 930.5 V881.3 H451.2 V881.3 H461.3 V896.5 H471.8 V881.3 H471.8 V881.3 H481.9 V896.5 H492.4 V881.3 H492.4 V881.3 H502.5 V896.5 H513.1 V881.3 H513.1 V881.3 H523.2 V896.5 H533.7 V881.3 H533.7 V881.3 H543.8 V896.5 H554.3 V881.3 H554.3 V881.3 H564.4 V896.5 H574.9 V881.3 H574.9 V881.3 H585.0 V896.5 H595.5 V881.3 H595.5 V881.3 H605.6 V896.5 H616.2 V881.3 H616.2 V881.3 H626.3 V896.5 H636.8 V881.3 H636.8 V881.3 H646.9 V930.5 Z" fill="url(#subY)"/>
<path d="M480 858.2 Q552 846.6 622.4 857" fill="none" stroke="#e8202a" stroke-width="2" stroke-dasharray="11 4.5"/>
<text x="537.8" y="824.2" font-size="24" fill="#111" textLength="29.0" lengthAdjust="spacingAndGlyphs" >Ice</text>
<text x="508.3" y="876.4" font-size="20.5" fill="#111" textLength="90.3" lengthAdjust="spacingAndGlyphs" >Meltwater</text>
<text x="465.7" y="925.0" font-size="15" fill="#111" textLength="168.7" lengthAdjust="spacingAndGlyphs" >Unlocking Wenzel-Cassie</text>
<rect x="611.6" y="877.4" width="39.6" height="32.4" fill="none" stroke="#2aa9e6" stroke-width="1.5" stroke-dasharray="5.5 3.2"/>
<path d="M657.2 891.5 H667.2 V888.2 L675 894 L667.2 899.8 V896.5 H657.2 Z" fill="#1fa6ea"/>
<text x="9.9" y="650.8" font-size="21" fill="#000" textLength="9.8" lengthAdjust="spacingAndGlyphs" >g</text>

<!-- 08_g2.py -->
<defs>
<radialGradient id="bead" cx="0.5" cy="0.5" r="0.5"><stop offset="0" stop-color="#f7e9df"/><stop offset="0.45" stop-color="#ebc9b0"/><stop offset="1" stop-color="#d9a27c"/></radialGradient>
<radialGradient id="feo" cx="0.5" cy="0.5" r="0.5"><stop offset="0" stop-color="#f8ece4"/><stop offset="0.35" stop-color="#eed3c0"/><stop offset="0.75" stop-color="#deae8c"/><stop offset="1" stop-color="#d59b72"/></radialGradient>
<radialGradient id="npg" cx="0.5" cy="0.5" r="0.5"><stop offset="0" stop-color="#ffffff"/><stop offset="0.3" stop-color="#fdf3dc"/><stop offset="0.7" stop-color="#fbdf98"/><stop offset="1" stop-color="#f9d270"/></radialGradient>
<radialGradient id="dotR" cx="0.5" cy="0.5" r="0.5"><stop offset="0" stop-color="#e8101c"/><stop offset="0.55" stop-color="#ee1c28"/><stop offset="1" stop-color="#f4525c"/></radialGradient>
<radialGradient id="dotM" cx="0.5" cy="0.5" r="0.5"><stop offset="0" stop-color="#fbb6bc"/><stop offset="0.45" stop-color="#f6848e"/><stop offset="1" stop-color="#f05462"/></radialGradient>
</defs>
<path d="M693.3 683 H712 C736 683 748.5 697 748.5 712.6 C748.5 728 736 742.4 712 742.4 H693.3 Z" fill="#c5e0b4"/>
<circle cx="698.5" cy="680.7" r="5.8" fill="url(#bead)"/>
<circle cx="710.6" cy="680.7" r="5.8" fill="url(#bead)"/>
<circle cx="722.6" cy="682.6" r="5.8" fill="url(#bead)"/>
<circle cx="734.6" cy="687.4" r="5.8" fill="url(#bead)"/>
<circle cx="744.4" cy="695.2" r="5.8" fill="url(#bead)"/>
<circle cx="750.0" cy="705.9" r="5.8" fill="url(#bead)"/>
<circle cx="749.4" cy="718.9" r="5.8" fill="url(#bead)"/>
<circle cx="743.9" cy="730.0" r="5.8" fill="url(#bead)"/>
<circle cx="734.6" cy="737.4" r="5.8" fill="url(#bead)"/>
<circle cx="723.5" cy="741.5" r="5.8" fill="url(#bead)"/>
<circle cx="711.5" cy="743.3" r="5.8" fill="url(#bead)"/>
<circle cx="699.4" cy="743.7" r="5.8" fill="url(#bead)"/>
<text x="695.2" y="720.2" font-size="15" fill="#111" textLength="43.0" lengthAdjust="spacingAndGlyphs" >PDMS</text>
<path d="M764.3 707 H775 V703.5 L782 710 L775 716.5 V713 H764.3 Z" fill="#1fa6ea"/>
<circle cx="822.6" cy="709.1" r="37" fill="url(#feo)"/>
<text x="794.8" y="717.4" font-size="15" fill="#111" textLength="60.2" lengthAdjust="spacingAndGlyphs">Fe<tspan font-size="10" dy="3">3</tspan><tspan dy="-3">O</tspan><tspan font-size="10" dy="3">4</tspan><tspan dy="-3"> NP</tspan></text>
<path d="M869.2 707 H882 V703 L890.8 710.5 L882 718 V714 H869.2 Z" fill="#f5464c"/>
<circle cx="950.6" cy="705.4" r="27.6" fill="url(#npg)"/>
<path d="M895.6 695.2 L896.1 696.6 L896.7 697.2 L897.2 696.6 L897.8 695.2 L898.3 693.8 L898.8 693.2 L899.4 693.8 L899.9 695.2 L900.5 696.6 L901.0 697.2 L901.5 696.6 L902.1 695.2 L902.6 693.8 L903.1 693.2 L903.7 693.8 L904.2 695.2 L904.8 696.6 L905.3 697.2 L905.8 696.6 L906.4 695.2 L906.9 693.8 L907.5 693.2 L908.0 693.8 L908.5 695.2 L909.1 696.6 L909.6 697.2 L910.1 696.6 L910.7 695.2 L911.2 693.8 L911.8 693.2 L912.3 693.8 L912.8 695.2 L913.4 696.6 L913.9 697.2 L914.5 696.6 L915.0 695.2 L915.5 693.8 L916.1 693.2 L916.6 693.8 L917.2 695.2 L917.7 696.6 L918.2 697.2 L918.8 696.6 L919.3 695.2 L919.9 693.8 L920.4 693.2 L920.9 693.8 L921.5 695.2 L922.0 696.6 L922.5 697.2 L923.1 696.6 L923.6 695.2 L924.2 693.8 L924.7 693.2 L925.2 693.8 L925.8 695.2 L926.3 696.6 L926.9 697.2 L927.4 696.6 L927.9 695.2 L928.5 693.8 L929.0 693.2 L929.5 693.8 L930.1 695.2 L930.6 696.6 L931.2 697.2 L931.7 696.6 L932.2 695.2 L932.8 693.8 L933.3 693.2 L933.9 693.8 L934.4 695.2" fill="none" stroke="#b98aa6" stroke-width="0.80"/>
<path d="M895.6 701.3 L896.1 702.7 L896.7 703.3 L897.2 702.7 L897.8 701.3 L898.3 699.9 L898.8 699.3 L899.4 699.9 L899.9 701.3 L900.5 702.7 L901.0 703.3 L901.5 702.7 L902.1 701.3 L902.6 699.9 L903.1 699.3 L903.7 699.9 L904.2 701.3 L904.8 702.7 L905.3 703.3 L905.8 702.7 L906.4 701.3 L906.9 699.9 L907.5 699.3 L908.0 699.9 L908.5 701.3 L909.1 702.7 L909.6 703.3 L910.1 702.7 L910.7 701.3 L911.2 699.9 L911.8 699.3 L912.3 699.9 L912.8 701.3 L913.4 702.7 L913.9 703.3 L914.5 702.7 L915.0 701.3 L915.5 699.9 L916.1 699.3 L916.6 699.9 L917.2 701.3 L917.7 702.7 L918.2 703.3 L918.8 702.7 L919.3 701.3 L919.9 699.9 L920.4 699.3 L920.9 699.9 L921.5 701.3 L922.0 702.7 L922.5 703.3 L923.1 702.7 L923.6 701.3 L924.2 699.9 L924.7 699.3 L925.2 699.9 L925.8 701.3 L926.3 702.7 L926.9 703.3 L927.4 702.7 L927.9 701.3 L928.5 699.9 L929.0 699.3 L929.5 699.9 L930.1 701.3 L930.6 702.7 L931.2 703.3 L931.7 702.7 L932.2 701.3 L932.8 699.9 L933.3 699.3 L933.9 699.9 L934.4 701.3" fill="none" stroke="#b98aa6" stroke-width="0.80"/>
<path d="M895.6 708.1 L896.1 709.5 L896.7 710.1 L897.2 709.5 L897.8 708.1 L898.3 706.7 L898.8 706.1 L899.4 706.7 L899.9 708.1 L900.5 709.5 L901.0 710.1 L901.5 709.5 L902.1 708.1 L902.6 706.7 L903.1 706.1 L903.7 706.7 L904.2 708.1 L904.8 709.5 L905.3 710.1 L905.8 709.5 L906.4 708.1 L906.9 706.7 L907.5 706.1 L908.0 706.7 L908.5 708.1 L909.1 709.5 L909.6 710.1 L910.1 709.5 L910.7 708.1 L911.2 706.7 L911.8 706.1 L912.3 706.7 L912.8 708.1 L913.4 709.5 L913.9 710.1 L914.5 709.5 L915.0 708.1 L915.5 706.7 L916.1 706.1 L916.6 706.7 L917.2 708.1 L917.7 709.5 L918.2 710.1 L918.8 709.5 L919.3 708.1 L919.9 706.7 L920.4 706.1 L920.9 706.7 L921.5 708.1 L922.0 709.5 L922.5 710.1 L923.1 709.5 L923.6 708.1 L924.2 706.7 L924.7 706.1 L925.2 706.7 L925.8 708.1 L926.3 709.5 L926.9 710.1 L927.4 709.5 L927.9 708.1 L928.5 706.7 L929.0 706.1 L929.5 706.7 L930.1 708.1 L930.6 709.5 L931.2 710.1 L931.7 709.5 L932.2 708.1 L932.8 706.7 L933.3 706.1 L933.9 706.7 L934.4 708.1" fill="none" stroke="#b98aa6" stroke-width="0.80"/>
<path d="M895.6 714.8 L896.1 716.2 L896.7 716.8 L897.2 716.2 L897.8 714.8 L898.3 713.4 L898.8 712.8 L899.4 713.4 L899.9 714.8 L900.5 716.2 L901.0 716.8 L901.5 716.2 L902.1 714.8 L902.6 713.4 L903.1 712.8 L903.7 713.4 L904.2 714.8 L904.8 716.2 L905.3 716.8 L905.8 716.2 L906.4 714.8 L906.9 713.4 L907.5 712.8 L908.0 713.4 L908.5 714.8 L909.1 716.2 L909.6 716.8 L910.1 716.2 L910.7 714.8 L911.2 713.4 L911.8 712.8 L912.3 713.4 L912.8 714.8 L913.4 716.2 L913.9 716.8 L914.5 716.2 L915.0 714.8 L915.5 713.4 L916.1 712.8 L916.6 713.4 L917.2 714.8 L917.7 716.2 L918.2 716.8 L918.8 716.2 L919.3 714.8 L919.9 713.4 L920.4 712.8 L920.9 713.4 L921.5 714.8 L922.0 716.2 L922.5 716.8 L923.1 716.2 L923.6 714.8 L924.2 713.4 L924.7 712.8 L925.2 713.4 L925.8 714.8 L926.3 716.2 L926.9 716.8 L927.4 716.2 L927.9 714.8 L928.5 713.4 L929.0 712.8 L929.5 713.4 L930.1 714.8 L930.6 716.2 L931.2 716.8 L931.7 716.2 L932.2 714.8 L932.8 713.4 L933.3 712.8 L933.9 713.4 L934.4 714.8" fill="none" stroke="#b98aa6" stroke-width="0.80"/>
<path d="M968.0 700.9 L968.5 702.3 L969.1 702.9 L969.6 702.3 L970.1 700.9 L970.7 699.5 L971.2 698.9 L971.8 699.5 L972.3 700.9 L972.8 702.3 L973.4 702.9 L973.9 702.3 L974.5 700.9 L975.0 699.5 L975.5 698.9 L976.1 699.5 L976.6 700.9 L977.1 702.3 L977.7 702.9 L978.2 702.3 L978.8 700.9 L979.3 699.5 L979.8 698.9 L980.4 699.5 L980.9 700.9 L981.4 702.3 L982.0 702.9 L982.5 702.3 L983.1 700.9 L983.6 699.5 L984.1 698.9 L984.7 699.5 L985.2 700.9 L985.7 702.3 L986.3 702.9 L986.8 702.3 L987.4 700.9 L987.9 699.5 L988.4 698.9 L989.0 699.5 L989.5 700.9 L990.0 702.3 L990.6 702.9 L991.1 702.3 L991.6 700.9 L992.2 699.5 L992.7 698.9 L993.3 699.5 L993.8 700.9 L994.3 702.3 L994.9 702.9 L995.4 702.3 L996.0 700.9 L996.5 699.5 L997.0 698.9 L997.6 699.5 L998.1 700.9 L998.6 702.3 L999.2 702.9 L999.7 702.3 L1000.2 700.9 L1000.8 699.5 L1001.3 698.9 L1001.9 699.5 L1002.4 700.9 L1002.9 702.3 L1003.5 702.9 L1004.0 702.3 L1004.6 700.9 L1005.1 699.5 L1005.6 698.9 L1006.2 699.5 L1006.7 700.9" fill="none" stroke="#b98aa6" stroke-width="0.80"/>
<path d="M968.0 710.1 L968.5 711.5 L969.1 712.1 L969.6 711.5 L970.1 710.1 L970.7 708.7 L971.2 708.1 L971.8 708.7 L972.3 710.1 L972.8 711.5 L973.4 712.1 L973.9 711.5 L974.5 710.1 L975.0 708.7 L975.5 708.1 L976.1 708.7 L976.6 710.1 L977.1 711.5 L977.7 712.1 L978.2 711.5 L978.8 710.1 L979.3 708.7 L979.8 708.1 L980.4 708.7 L980.9 710.1 L981.4 711.5 L982.0 712.1 L982.5 711.5 L983.1 710.1 L983.6 708.7 L984.1 708.1 L984.7 708.7 L985.2 710.1 L985.7 711.5 L986.3 712.1 L986.8 711.5 L987.4 710.1 L987.9 708.7 L988.4 708.1 L989.0 708.7 L989.5 710.1 L990.0 711.5 L990.6 712.1 L991.1 711.5 L991.6 710.1 L992.2 708.7 L992.7 708.1 L993.3 708.7 L993.8 710.1 L994.3 711.5 L994.9 712.1 L995.4 711.5 L996.0 710.1 L996.5 708.7 L997.0 708.1 L997.6 708.7 L998.1 710.1 L998.6 711.5 L999.2 712.1 L999.7 711.5 L1000.2 710.1 L1000.8 708.7 L1001.3 708.1 L1001.9 708.7 L1002.4 710.1 L1002.9 711.5 L1003.5 712.1 L1004.0 711.5 L1004.6 710.1 L1005.1 708.7 L1005.6 708.1 L1006.2 708.7 L1006.7 710.1" fill="none" stroke="#b98aa6" stroke-width="0.80"/>
<path d="M962.9 687.7 L964.1 688.7 L964.9 688.9 L965.2 688.1 L965.0 686.6 L964.8 685.0 L965.1 684.2 L965.9 684.5 L967.1 685.4 L968.3 686.4 L969.1 686.6 L969.4 685.8 L969.2 684.3 L969.0 682.7 L969.3 681.9 L970.1 682.2 L971.3 683.1 L972.5 684.1 L973.3 684.3 L973.6 683.5 L973.4 682.0 L973.2 680.5 L973.5 679.7 L974.3 679.9 L975.5 680.8 L976.7 681.8 L977.5 682.0 L977.8 681.2 L977.6 679.7 L977.4 678.2 L977.7 677.4 L978.5 677.6 L979.7 678.5 L980.9 679.5 L981.7 679.7 L982.0 678.9 L981.8 677.4 L981.6 675.9 L981.9 675.1 L982.7 675.3 L983.9 676.3 L985.1 677.2 L985.9 677.4 L986.2 676.6 L986.0 675.1 L985.8 673.6 L986.1 672.8 L986.9 673.0 L988.1 674.0 L989.3 674.9 L990.1 675.2 L990.4 674.4 L990.2 672.8 L990.0 671.3 L990.3 670.5 L991.1 670.7 L992.3 671.7 L993.5 672.6 L994.3 672.9 L994.6 672.1 L994.4 670.5 L994.2 669.0 L994.5 668.2 L995.3 668.4 L996.5 669.4" fill="none" stroke="#b98aa6" stroke-width="0.80"/>
<path d="M961.9 721.3 L961.6 722.8 L961.8 723.6 L962.6 723.5 L963.9 722.6 L965.2 721.8 L966.0 721.7 L966.1 722.5 L965.8 724.0 L965.5 725.5 L965.7 726.3 L966.5 726.1 L967.8 725.3 L969.1 724.5 L969.9 724.3 L970.1 725.1 L969.8 726.6 L969.5 728.2 L969.6 729.0 L970.5 728.8 L971.7 728.0 L973.0 727.2 L973.9 727.0 L974.0 727.8 L973.7 729.3 L973.4 730.8 L973.6 731.6 L974.4 731.5 L975.7 730.7 L977.0 729.8 L977.8 729.7 L978.0 730.5 L977.6 732.0 L977.3 733.5 L977.5 734.3 L978.3 734.2 L979.6 733.3 L980.9 732.5 L981.7 732.4 L981.9 733.2 L981.6 734.7 L981.3 736.2 L981.4 737.0 L982.3 736.8 L983.6 736.0 L984.8 735.2 L985.7 735.0 L985.8 735.8 L985.5 737.4 L985.2 738.9 L985.4 739.7 L986.2 739.5 L987.5 738.7 L988.8 737.9 L989.6 737.7 L989.8 738.5 L989.5 740.0 L989.2 741.5 L989.3 742.3 L990.1 742.2 L991.4 741.4 L992.7 740.5 L993.5 740.4 L993.7 741.2 L993.4 742.7" fill="none" stroke="#b98aa6" stroke-width="0.80"/>
<path d="M943.5 687.7 L944.6 686.7 L944.9 686.0 L944.2 685.9 L942.7 686.1 L941.3 686.3 L940.6 686.2 L940.9 685.5 L942.0 684.5 L943.1 683.5 L943.4 682.9 L942.7 682.7 L941.2 682.9 L939.7 683.1 L939.0 683.0 L939.4 682.3 L940.5 681.3 L941.5 680.3 L941.9 679.7 L941.2 679.5 L939.7 679.7 L938.2 679.9 L937.5 679.8 L937.8 679.1 L938.9 678.1 L940.0 677.1 L940.3 676.5 L939.6 676.3 L938.2 676.5 L936.7 676.8 L936.0 676.6 L936.3 676.0 L937.4 675.0 L938.5 673.9 L938.8 673.3 L938.1 673.1 L936.6 673.4 L935.2 673.6 L934.5 673.4 L934.8 672.8 L935.9 671.8 L937.0 670.8 L937.3 670.1 L936.6 670.0 L935.1 670.2 L933.6 670.4 L932.9 670.2 L933.3 669.6 L934.4 668.6 L935.4 667.6 L935.8 666.9 L935.1 666.8 L933.6 667.0 L932.1 667.2 L931.4 667.0 L931.7 666.4 L932.8 665.4 L933.9 664.4 L934.2 663.7 L933.5 663.6 L932.1 663.8 L930.6 664.0 L929.9 663.9 L930.2 663.2 L931.3 662.2" fill="none" stroke="#63bdf2" stroke-width="0.90"/>
<path d="M954.7 687.7 L956.2 687.8 L956.9 687.5 L956.5 686.9 L955.3 686.0 L954.2 685.1 L953.8 684.4 L954.5 684.2 L956.0 684.3 L957.5 684.3 L958.2 684.1 L957.8 683.5 L956.6 682.5 L955.4 681.6 L955.1 681.0 L955.8 680.8 L957.2 680.8 L958.7 680.9 L959.4 680.7 L959.1 680.0 L957.9 679.1 L956.7 678.2 L956.3 677.6 L957.0 677.3 L958.5 677.4 L960.0 677.4 L960.7 677.2 L960.3 676.6 L959.2 675.7 L958.0 674.7 L957.6 674.1 L958.3 673.9 L959.8 674.0 L961.3 674.0 L962.0 673.8 L961.6 673.2 L960.4 672.2 L959.3 671.3 L958.9 670.7 L959.6 670.5 L961.1 670.5 L962.6 670.6 L963.3 670.3 L962.9 669.7 L961.7 668.8 L960.5 667.9 L960.2 667.2 L960.9 667.0 L962.4 667.1 L963.8 667.1 L964.5 666.9 L964.2 666.3 L963.0 665.4 L961.8 664.4 L961.4 663.8 L962.1 663.6 L963.6 663.6 L965.1 663.7 L965.8 663.5 L965.4 662.8 L964.3 661.9 L963.1 661.0 L962.7 660.4 L963.4 660.1 L964.9 660.2" fill="none" stroke="#63bdf2" stroke-width="0.90"/>
<path d="M941.5 726.4 L940.1 726.0 L939.3 726.1 L939.6 726.8 L940.5 727.9 L941.5 729.1 L941.8 729.7 L941.0 729.8 L939.6 729.4 L938.2 729.1 L937.4 729.2 L937.7 729.8 L938.6 731.0 L939.6 732.1 L939.8 732.8 L939.1 732.9 L937.7 732.5 L936.2 732.1 L935.5 732.2 L935.8 732.9 L936.7 734.0 L937.7 735.2 L937.9 735.8 L937.2 735.9 L935.8 735.5 L934.3 735.2 L933.6 735.3 L933.8 735.9 L934.8 737.1 L935.8 738.2 L936.0 738.9 L935.3 739.0 L933.9 738.6 L932.4 738.2 L931.7 738.3 L931.9 739.0 L932.9 740.1 L933.9 741.3 L934.1 741.9 L933.4 742.0 L931.9 741.6 L930.5 741.3 L929.8 741.4 L930.0 742.0 L931.0 743.2 L931.9 744.3 L932.2 745.0 L931.5 745.1 L930.0 744.7 L928.6 744.3 L927.9 744.4 L928.1 745.1 L929.1 746.2 L930.0 747.4 L930.3 748.0 L929.5 748.1 L928.1 747.8 L926.7 747.4 L925.9 747.5 L926.2 748.1 L927.2 749.3 L928.1 750.4 L928.4 751.1 L927.6 751.2 L926.2 750.8" fill="none" stroke="#63bdf2" stroke-width="0.90"/>
<path d="M952.7 728.4 L951.6 729.4 L951.3 730.1 L952.0 730.2 L953.5 730.1 L954.9 729.9 L955.7 730.0 L955.3 730.7 L954.2 731.7 L953.1 732.7 L952.8 733.4 L953.5 733.5 L955.0 733.4 L956.5 733.2 L957.2 733.4 L956.8 734.0 L955.8 735.0 L954.7 736.0 L954.3 736.7 L955.0 736.9 L956.5 736.7 L958.0 736.5 L958.7 736.7 L958.4 737.3 L957.3 738.3 L956.2 739.3 L955.8 740.0 L956.6 740.2 L958.0 740.0 L959.5 739.8 L960.2 740.0 L959.9 740.6 L958.8 741.6 L957.7 742.7 L957.4 743.3 L958.1 743.5 L959.6 743.3 L961.0 743.1 L961.8 743.3 L961.4 744.0 L960.3 745.0 L959.2 746.0 L958.9 746.6 L959.6 746.8 L961.1 746.6 L962.6 746.4 L963.3 746.6 L962.9 747.3 L961.9 748.3 L960.8 749.3 L960.4 749.9 L961.1 750.1 L962.6 749.9 L964.1 749.8 L964.8 749.9 L964.5 750.6 L963.4 751.6 L962.3 752.6 L961.9 753.3 L962.7 753.4 L964.1 753.2 L965.6 753.1 L966.3 753.2 L966.0 753.9 L964.9 754.9" fill="none" stroke="#63bdf2" stroke-width="0.90"/>
<line x1="929.3" y1="686.3" x2="908.5" y2="672.6" stroke="#f2444e" stroke-width="1.00"/><path d="M905.2 670.4 L909.5 671.2 L907.6 674.0 Z" fill="#f2444e"/>
<line x1="976.1" y1="692.8" x2="992.6" y2="683.6" stroke="#f2444e" stroke-width="1.00"/><path d="M996.1 681.6 L993.4 685.0 L991.8 682.1 Z" fill="#f2444e"/>
<line x1="973.5" y1="720.3" x2="990.9" y2="729.6" stroke="#f2444e" stroke-width="1.00"/><path d="M994.4 731.5 L990.1 731.1 L991.7 728.1 Z" fill="#f2444e"/>
<line x1="929.3" y1="725.8" x2="913.8" y2="740.5" stroke="#f2444e" stroke-width="1.00"/><path d="M910.9 743.3 L912.6 739.3 L915.0 741.8 Z" fill="#f2444e"/>
<text x="941.5" y="711.7" font-size="16" fill="#111" textLength="19.7" lengthAdjust="spacingAndGlyphs" >NP</text>
<text x="1007.7" y="686.0" font-size="15.5" fill="#f4505c" textLength="30.5" lengthAdjust="spacingAndGlyphs" >Heat</text>
<text x="1004.2" y="727.4" font-size="15.5" fill="#b07c98" textLength="67.7" lengthAdjust="spacingAndGlyphs" >Scattering</text>
<text x="950.6" y="768.8" font-size="15.5" fill="#4fb6f0" textLength="93.4" lengthAdjust="spacingAndGlyphs" >Luminescence</text>
<path transform="translate(766.4 774.8) rotate(-122.5)" d="M0 -2.9 L19.7 -2.9 L19.7 -6.4 L27.7 0 L19.7 6.4 L19.7 2.9 L0 2.9 Z" fill="#1fa6ea"/>
<rect x="679.7" y="904.2" width="372.8" height="28.2" fill="#c5e0b4"/>
<path d="M773.0 906.0 C777.9 896.0 792.5 896.0 797.3 902.5 C802.2 896.0 816.8 896.0 821.7 902.5 C826.5 896.0 841.1 896.0 846.0 906.0  L846.0 908 L773.0 908 Z" fill="#c5e0b4"/>
<path d="M773.0 906.0 C777.9 896.0 792.5 896.0 797.3 902.5 C802.2 896.0 816.8 896.0 821.7 902.5 C826.5 896.0 841.1 896.0 846.0 906.0 " fill="none" stroke="#c55a11" stroke-width="1.3" stroke-dasharray="7.5 3"/>
<path d="M894.0 906.0 C898.1 896.0 910.5 896.0 914.7 902.5 C918.8 896.0 931.2 896.0 935.3 902.5 C939.5 896.0 951.9 896.0 956.0 906.0  L956.0 908 L894.0 908 Z" fill="#c5e0b4"/>
<path d="M894.0 906.0 C898.1 896.0 910.5 896.0 914.7 902.5 C918.8 896.0 931.2 896.0 935.3 902.5 C939.5 896.0 951.9 896.0 956.0 906.0 " fill="none" stroke="#c55a11" stroke-width="1.3" stroke-dasharray="7.5 3"/>
<path d="M711.7 907.5 C693.7 905.6 693.7 877.9 711.7 876.0 C693.7 874.2 693.7 848.4 711.7 846.6 C693.7 844.8 693.7 819.0 711.7 817.2 C693.7 815.6 693.7 791.8 711.7 790.2 L711.7 787.3 C713.5 779.0 728.1 779.0 729.9 785.8 C731.7 779.0 746.3 779.0 748.1 785.8 C749.9 779.0 764.5 779.0 766.3 787.3 L766.3 790.2 C784.3 791.8 784.3 815.6 766.3 817.2 C784.3 819.0 784.3 844.8 766.3 846.6 C784.3 848.4 784.3 874.2 766.3 876.0 C784.3 877.9 784.3 905.6 766.3 907.5 Z" fill="#c5e0b4"/>
<path d="M711.7 907.5 C693.7 905.6 693.7 877.9 711.7 876.0 C693.7 874.2 693.7 848.4 711.7 846.6 C693.7 844.8 693.7 819.0 711.7 817.2 C693.7 815.6 693.7 791.8 711.7 790.2 L711.7 787.3 C713.5 779.0 728.1 779.0 729.9 785.8 C731.7 779.0 746.3 779.0 748.1 785.8 C749.9 779.0 764.5 779.0 766.3 787.3 L766.3 790.2 C784.3 791.8 784.3 815.6 766.3 817.2 C784.3 819.0 784.3 844.8 766.3 846.6 C784.3 848.4 784.3 874.2 766.3 876.0 C784.3 877.9 784.3 905.6 766.3 907.5 Z" fill="none" stroke="#c55a11" stroke-width="1.3" stroke-dasharray="7.5 3"/>
<path d="M842.7 907.5 C824.4 905.6 824.4 877.9 842.7 876.0 C824.4 874.2 824.4 848.4 842.7 846.6 C824.4 844.8 824.4 819.0 842.7 817.2 C824.4 815.5 824.4 791.3 842.7 789.6 L842.7 786.7 C844.5 778.4 859.1 778.4 860.9 785.2 C862.7 778.4 877.3 778.4 879.1 785.2 C880.9 778.4 895.5 778.4 897.3 786.7 L897.3 789.6 C915.6 791.3 915.6 815.5 897.3 817.2 C915.6 819.0 915.6 844.8 897.3 846.6 C915.6 848.4 915.6 874.2 897.3 876.0 C915.6 877.9 915.6 905.6 897.3 907.5 Z" fill="#c5e0b4"/>
<path d="M842.7 907.5 C824.4 905.6 824.4 877.9 842.7 876.0 C824.4 874.2 824.4 848.4 842.7 846.6 C824.4 844.8 824.4 819.0 842.7 817.2 C824.4 815.5 824.4 791.3 842.7 789.6 L842.7 786.7 C844.5 778.4 859.1 778.4 860.9 785.2 C862.7 778.4 877.3 778.4 879.1 785.2 C880.9 778.4 895.5 778.4 897.3 786.7 L897.3 789.6 C915.6 791.3 915.6 815.5 897.3 817.2 C915.6 819.0 915.6 844.8 897.3 846.6 C915.6 848.4 915.6 874.2 897.3 876.0 C915.6 877.9 915.6 905.6 897.3 907.5 Z" fill="none" stroke="#c55a11" stroke-width="1.3" stroke-dasharray="7.5 3"/>
<path d="M962.9 907.5 C945.2 905.6 945.2 877.9 962.9 876.0 C945.2 874.2 945.2 848.4 962.9 846.6 C945.2 844.8 945.2 819.0 962.9 817.2 C945.2 815.4 945.2 789.8 962.9 788.0 L962.9 785.1 C964.7 776.8 979.2 776.8 981.0 783.6 C982.8 776.8 997.4 776.8 999.2 783.6 C1001.0 776.8 1015.5 776.8 1017.3 785.1 L1017.3 788.0 C1035.0 789.8 1035.0 815.4 1017.3 817.2 C1035.0 819.0 1035.0 844.8 1017.3 846.6 C1035.0 848.4 1035.0 874.2 1017.3 876.0 C1035.0 877.9 1035.0 905.6 1017.3 907.5 Z" fill="#c5e0b4"/>
<path d="M962.9 907.5 C945.2 905.6 945.2 877.9 962.9 876.0 C945.2 874.2 945.2 848.4 962.9 846.6 C945.2 844.8 945.2 819.0 962.9 817.2 C945.2 815.4 945.2 789.8 962.9 788.0 L962.9 785.1 C964.7 776.8 979.2 776.8 981.0 783.6 C982.8 776.8 997.4 776.8 999.2 783.6 C1001.0 776.8 1015.5 776.8 1017.3 785.1 L1017.3 788.0 C1035.0 789.8 1035.0 815.4 1017.3 817.2 C1035.0 819.0 1035.0 844.8 1017.3 846.6 C1035.0 848.4 1035.0 874.2 1017.3 876.0 C1035.0 877.9 1035.0 905.6 1017.3 907.5 Z" fill="none" stroke="#c55a11" stroke-width="1.3" stroke-dasharray="7.5 3"/>
<rect x="679.7" y="905" width="372.8" height="27.4" fill="#c5e0b4"/>
<rect x="757.9" y="784.6" width="38.9" height="31.7" fill="none" stroke="#2aa9e6" stroke-width="1.5" stroke-dasharray="5.5 3.2"/>
<line x1="800.5" y1="767.5" x2="832.4" y2="801.1" stroke="#ee1420" stroke-width="1.60"/><path d="M821.6 789.7 L811.2 785.0 L816.9 784.7 L817.4 779.1 Z" fill="#ee1420"/>
<line x1="832.4" y1="801.1" x2="780.2" y2="860.0" stroke="#f4545e" stroke-width="1.50"/><path d="M800.0 837.6 L803.8 826.9 L804.6 832.5 L810.2 832.6 Z" fill="#f4545e"/>
<line x1="780.2" y1="860.0" x2="812.3" y2="899.9" stroke="#f9aab2" stroke-width="1.50"/><path d="M794.6 878.0 L784.7 872.5 L790.4 872.6 L791.4 867.1 Z" fill="#f9aab2"/>
<line x1="907.3" y1="762.4" x2="932.0" y2="899.5" stroke="#ee1420" stroke-width="1.60"/><path d="M919.6 831.0 L913.6 821.4 L918.4 824.2 L922.0 819.9 Z" fill="#ee1420"/>
<line x1="932.0" y1="899.5" x2="951.2" y2="858.6" stroke="#f4545e" stroke-width="1.50"/><path d="M941.6 879.0 L941.0 890.4 L938.7 885.2 L933.2 886.7 Z" fill="#f4545e"/>
<line x1="951.2" y1="858.6" x2="906.7" y2="829.7" stroke="#f9aab2" stroke-width="1.50"/><path d="M932.5 846.5 L943.7 848.6 L938.2 850.2 L939.0 855.8 Z" fill="#f9aab2"/>
<circle cx="832.4" cy="801.1" r="7.3" fill="url(#dotR)"/>
<circle cx="780.2" cy="860" r="6.9" fill="url(#dotM)"/>
<circle cx="812.3" cy="899.9" r="7.2" fill="#fbb6be"/>
<circle cx="932" cy="899.5" r="7.3" fill="url(#dotR)"/>
<circle cx="951.2" cy="858.6" r="6.9" fill="url(#dotM)"/>
<circle cx="906.7" cy="829.7" r="7.2" fill="#fbb6be"/>
<text x="712.8" y="864.0" font-size="15.5" fill="#111" textLength="55.0" lengthAdjust="spacingAndGlyphs" >Capture</text>
<text x="730.7" y="882.2" font-size="15.5" fill="#111" textLength="19.0" lengthAdjust="spacingAndGlyphs" >2st</text>
<text x="772.1" y="918.2" font-size="15.5" fill="#111" textLength="78.1" lengthAdjust="spacingAndGlyphs" >Capture 3st</text>
<text x="845.3" y="809.0" font-size="15.5" fill="#111" textLength="54.6" lengthAdjust="spacingAndGlyphs" >Capture</text>
<text x="864.0" y="827.8" font-size="15.5" fill="#111" textLength="18.1" lengthAdjust="spacingAndGlyphs" >1st</text>
<text x="916.3" y="923.3" font-size="15.5" fill="#111" textLength="122.7" lengthAdjust="spacingAndGlyphs" >Photothermal trap</text>

</svg>
</body></html>
